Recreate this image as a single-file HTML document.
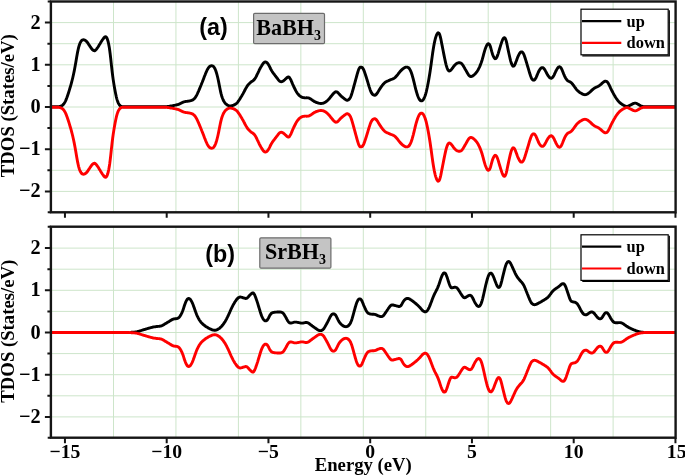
<!DOCTYPE html><html><head><meta charset="utf-8"><title>TDOS</title><style>html,body{margin:0;padding:0;background:#fff;overflow:hidden}svg{display:block;filter:blur(0.4px)}text{font-family:"Liberation Serif","Times New Roman",serif;font-weight:bold;fill:#000}.s{font-family:"Liberation Sans",Arial,sans-serif}</style></head><body>
<svg width="685" height="475" viewBox="0 0 685 475">
<rect width="685" height="475" fill="#fff"/>
<path d="M113.50,1.5V212.3M175.95,1.5V212.3M238.40,1.5V212.3M300.85,1.5V212.3M363.30,1.5V212.3M425.75,1.5V212.3M488.20,1.5V212.3M550.65,1.5V212.3M613.10,1.5V212.3M50.9,191.40H675.6M50.9,170.30H675.6M50.9,149.20H675.6M50.9,128.10H675.6M50.9,107.00H675.6M50.9,85.90H675.6M50.9,64.80H675.6M50.9,43.70H675.6M50.9,22.60H675.6" stroke="#cde5ca" stroke-width="1" fill="none"/>
<path d="M113.50,226.7V437.7M175.95,226.7V437.7M238.40,226.7V437.7M300.85,226.7V437.7M363.30,226.7V437.7M425.75,226.7V437.7M488.20,226.7V437.7M550.65,226.7V437.7M613.10,226.7V437.7M50.9,416.90H675.6M50.9,395.80H675.6M50.9,374.70H675.6M50.9,353.60H675.6M50.9,332.50H675.6M50.9,311.40H675.6M50.9,290.30H675.6M50.9,269.20H675.6M50.9,248.10H675.6" stroke="#cde5ca" stroke-width="1" fill="none"/>
<g fill="none" stroke-width="2.9" stroke-linejoin="round" stroke-linecap="butt">
<path stroke="#000" d="M51.2,106.8 L51.7,106.8 L52.2,106.8 L52.7,106.8 L53.2,106.8 L53.7,106.8 L54.2,106.8 L54.7,106.8 L55.2,106.8 L55.7,106.8 L56.2,106.8 L56.7,106.8 L57.2,106.8 L57.7,106.8 L58.2,106.7 L58.7,106.7 L59.2,106.6 L59.7,106.5 L60.2,106.4 L60.7,106.2 L61.2,106.0 L61.7,105.7 L62.2,105.4 L62.7,105.1 L63.2,104.6 L63.7,104.0 L64.2,103.3 L64.7,102.5 L65.2,101.6 L65.7,100.6 L66.2,99.4 L66.7,98.1 L67.2,96.7 L67.7,95.2 L68.2,93.7 L68.7,92.2 L69.2,90.6 L69.7,88.9 L70.2,87.3 L70.7,85.6 L71.2,83.8 L71.7,81.9 L72.2,80.0 L72.7,78.0 L73.2,75.8 L73.7,73.5 L74.2,71.1 L74.7,68.5 L75.2,65.8 L75.7,62.9 L76.2,60.0 L76.7,57.0 L77.2,54.2 L77.7,51.6 L78.2,49.3 L78.7,47.2 L79.2,45.5 L79.7,44.0 L80.2,42.8 L80.7,41.9 L81.2,41.1 L81.7,40.5 L82.2,40.1 L82.7,39.9 L83.2,39.8 L83.7,39.8 L84.2,39.9 L84.7,40.1 L85.2,40.3 L85.7,40.7 L86.2,41.1 L86.7,41.6 L87.2,42.2 L87.7,42.9 L88.2,43.6 L88.7,44.4 L89.2,45.2 L89.7,45.9 L90.2,46.7 L90.7,47.4 L91.2,48.1 L91.7,48.8 L92.2,49.4 L92.7,49.9 L93.2,50.3 L93.7,50.6 L94.2,50.7 L94.7,50.7 L95.2,50.4 L95.7,50.0 L96.2,49.5 L96.7,48.9 L97.2,48.2 L97.7,47.5 L98.2,46.7 L98.7,45.9 L99.2,45.1 L99.7,44.3 L100.2,43.5 L100.7,42.6 L101.2,41.8 L101.7,41.0 L102.2,40.2 L102.7,39.5 L103.2,38.8 L103.7,38.1 L104.2,37.6 L104.7,37.1 L105.2,36.8 L105.7,36.7 L106.2,37.0 L106.7,37.7 L107.2,38.7 L107.7,40.2 L108.2,42.0 L108.7,44.2 L109.2,46.9 L109.7,50.2 L110.2,54.1 L110.7,58.4 L111.2,63.1 L111.7,67.7 L112.2,72.0 L112.7,76.0 L113.2,79.6 L113.7,82.9 L114.2,86.0 L114.7,88.8 L115.2,91.5 L115.7,94.0 L116.2,96.3 L116.7,98.3 L117.2,100.1 L117.7,101.6 L118.2,102.8 L118.7,103.8 L119.2,104.6 L119.7,105.3 L120.2,105.8 L120.7,106.1 L121.2,106.4 L121.7,106.6 L122.2,106.6 L122.7,106.7 L123.2,106.8 L123.7,106.8 L124.2,106.8 L124.7,106.8 L125.2,106.8 L125.7,106.8 L126.2,106.8 L126.7,106.8 L127.2,106.8 L127.7,106.8 L128.2,106.8 L128.7,106.8 L129.2,106.8 L129.7,106.8 L130.2,106.8 L130.7,106.8 L131.2,106.8 L131.7,106.8 L132.2,106.8 L132.7,106.8 L133.2,106.8 L133.7,106.8 L134.2,106.8 L134.7,106.8 L135.2,106.8 L135.7,106.8 L136.2,106.8 L136.7,106.8 L137.2,106.8 L137.7,106.8 L138.2,106.8 L138.7,106.8 L139.2,106.8 L139.7,106.8 L140.2,106.8 L140.7,106.8 L141.2,106.8 L141.7,106.8 L142.2,106.8 L142.7,106.8 L143.2,106.8 L143.7,106.8 L144.2,106.8 L144.7,106.8 L145.2,106.8 L145.7,106.8 L146.2,106.8 L146.7,106.8 L147.2,106.8 L147.7,106.8 L148.2,106.8 L148.7,106.8 L149.2,106.8 L149.7,106.8 L150.2,106.8 L150.7,106.8 L151.2,106.8 L151.7,106.8 L152.2,106.8 L152.7,106.8 L153.2,106.8 L153.7,106.8 L154.2,106.8 L154.7,106.8 L155.2,106.8 L155.7,106.8 L156.2,106.8 L156.7,106.8 L157.2,106.8 L157.7,106.8 L158.2,106.8 L158.7,106.8 L159.2,106.8 L159.7,106.8 L160.2,106.8 L160.7,106.8 L161.2,106.8 L161.7,106.8 L162.2,106.8 L162.7,106.8 L163.2,106.8 L163.7,106.8 L164.2,106.7 L164.7,106.7 L165.2,106.7 L165.7,106.7 L166.2,106.7 L166.7,106.6 L167.2,106.6 L167.7,106.5 L168.2,106.5 L168.7,106.4 L169.2,106.3 L169.7,106.2 L170.2,106.1 L170.7,106.0 L171.2,105.9 L171.7,105.9 L172.2,105.8 L172.7,105.7 L173.2,105.6 L173.7,105.5 L174.2,105.4 L174.7,105.3 L175.2,105.2 L175.7,105.1 L176.2,105.0 L176.7,104.9 L177.2,104.7 L177.7,104.6 L178.2,104.5 L178.7,104.3 L179.2,104.1 L179.7,103.8 L180.2,103.6 L180.7,103.3 L181.2,103.1 L181.7,102.8 L182.2,102.6 L182.7,102.3 L183.2,102.1 L183.7,102.0 L184.2,101.8 L184.7,101.7 L185.2,101.6 L185.7,101.5 L186.2,101.4 L186.7,101.4 L187.2,101.3 L187.7,101.2 L188.2,101.2 L188.7,101.1 L189.2,101.0 L189.7,100.9 L190.2,100.8 L190.7,100.7 L191.2,100.5 L191.7,100.4 L192.2,100.2 L192.7,100.0 L193.2,99.6 L193.7,99.3 L194.2,98.8 L194.7,98.2 L195.2,97.6 L195.7,96.9 L196.2,96.0 L196.7,95.1 L197.2,94.1 L197.7,93.0 L198.2,91.9 L198.7,90.8 L199.2,89.6 L199.7,88.4 L200.2,87.2 L200.7,86.0 L201.2,84.8 L201.7,83.5 L202.2,82.3 L202.7,81.0 L203.2,79.7 L203.7,78.4 L204.2,77.1 L204.7,75.8 L205.2,74.6 L205.7,73.3 L206.2,72.1 L206.7,71.0 L207.2,69.9 L207.7,69.0 L208.2,68.2 L208.7,67.5 L209.2,66.9 L209.7,66.5 L210.2,66.1 L210.7,65.9 L211.2,65.8 L211.7,65.7 L212.2,65.8 L212.7,66.0 L213.2,66.3 L213.7,66.8 L214.2,67.4 L214.7,68.2 L215.2,69.3 L215.7,70.5 L216.2,72.0 L216.7,73.6 L217.2,75.5 L217.7,77.5 L218.2,79.7 L218.7,82.1 L219.2,84.7 L219.7,87.3 L220.2,89.8 L220.7,92.1 L221.2,94.2 L221.7,96.0 L222.2,97.5 L222.7,98.8 L223.2,100.0 L223.7,101.0 L224.2,101.8 L224.7,102.6 L225.2,103.2 L225.7,103.7 L226.2,104.2 L226.7,104.6 L227.2,104.9 L227.7,105.2 L228.2,105.5 L228.7,105.7 L229.2,105.8 L229.7,105.9 L230.2,105.9 L230.7,105.9 L231.2,105.8 L231.7,105.7 L232.2,105.6 L232.7,105.5 L233.2,105.3 L233.7,105.1 L234.2,104.9 L234.7,104.6 L235.2,104.4 L235.7,104.0 L236.2,103.7 L236.7,103.2 L237.2,102.7 L237.7,102.1 L238.2,101.4 L238.7,100.7 L239.2,100.0 L239.7,99.2 L240.2,98.4 L240.7,97.6 L241.2,96.8 L241.7,96.0 L242.2,95.1 L242.7,94.3 L243.2,93.4 L243.7,92.4 L244.2,91.5 L244.7,90.5 L245.2,89.5 L245.7,88.6 L246.2,87.7 L246.7,86.9 L247.2,86.1 L247.7,85.4 L248.2,84.7 L248.7,84.2 L249.2,83.7 L249.7,83.2 L250.2,82.7 L250.7,82.3 L251.2,81.9 L251.7,81.5 L252.2,81.2 L252.7,80.9 L253.2,80.5 L253.7,80.1 L254.2,79.6 L254.7,79.0 L255.2,78.2 L255.7,77.4 L256.2,76.5 L256.7,75.5 L257.2,74.4 L257.7,73.4 L258.2,72.3 L258.7,71.3 L259.2,70.2 L259.7,69.2 L260.2,68.3 L260.7,67.4 L261.2,66.5 L261.7,65.7 L262.2,64.8 L262.7,64.1 L263.2,63.4 L263.7,62.8 L264.2,62.4 L264.7,62.1 L265.2,62.0 L265.7,62.0 L266.2,62.2 L266.7,62.5 L267.2,62.9 L267.7,63.5 L268.2,64.2 L268.7,65.0 L269.2,65.9 L269.7,66.9 L270.2,68.0 L270.7,69.0 L271.2,69.9 L271.7,70.8 L272.2,71.6 L272.7,72.3 L273.2,73.0 L273.7,73.7 L274.2,74.3 L274.7,75.0 L275.2,75.7 L275.7,76.3 L276.2,77.0 L276.7,77.6 L277.2,78.3 L277.7,78.9 L278.2,79.6 L278.7,80.2 L279.2,80.7 L279.7,81.2 L280.2,81.5 L280.7,81.7 L281.2,81.8 L281.7,81.7 L282.2,81.6 L282.7,81.3 L283.2,81.0 L283.7,80.6 L284.2,80.2 L284.7,79.8 L285.2,79.3 L285.7,78.8 L286.2,78.4 L286.7,77.9 L287.2,77.5 L287.7,77.1 L288.2,77.0 L288.7,77.0 L289.2,77.3 L289.7,77.9 L290.2,78.7 L290.7,79.6 L291.2,80.7 L291.7,81.9 L292.2,83.1 L292.7,84.3 L293.2,85.4 L293.7,86.5 L294.2,87.5 L294.7,88.5 L295.2,89.5 L295.7,90.5 L296.2,91.4 L296.7,92.2 L297.2,93.0 L297.7,93.7 L298.2,94.3 L298.7,94.9 L299.2,95.4 L299.7,95.8 L300.2,96.2 L300.7,96.6 L301.2,96.8 L301.7,97.1 L302.2,97.3 L302.7,97.5 L303.2,97.6 L303.7,97.7 L304.2,97.8 L304.7,97.8 L305.2,97.9 L305.7,97.9 L306.2,97.8 L306.7,97.8 L307.2,97.8 L307.7,97.9 L308.2,97.9 L308.7,98.0 L309.2,98.2 L309.7,98.4 L310.2,98.7 L310.7,99.0 L311.2,99.3 L311.7,99.7 L312.2,100.0 L312.7,100.4 L313.2,100.7 L313.7,101.1 L314.2,101.4 L314.7,101.7 L315.2,101.9 L315.7,102.1 L316.2,102.4 L316.7,102.6 L317.2,102.7 L317.7,102.9 L318.2,103.0 L318.7,103.2 L319.2,103.3 L319.7,103.4 L320.2,103.4 L320.7,103.5 L321.2,103.5 L321.7,103.4 L322.2,103.4 L322.7,103.3 L323.2,103.1 L323.7,103.0 L324.2,102.8 L324.7,102.5 L325.2,102.2 L325.7,101.9 L326.2,101.6 L326.7,101.2 L327.2,100.8 L327.7,100.3 L328.2,99.8 L328.7,99.3 L329.2,98.7 L329.7,98.1 L330.2,97.5 L330.7,96.8 L331.2,96.2 L331.7,95.6 L332.2,95.0 L332.7,94.4 L333.2,93.9 L333.7,93.3 L334.2,92.8 L334.7,92.4 L335.2,92.0 L335.7,91.8 L336.2,91.8 L336.7,91.9 L337.2,92.1 L337.7,92.5 L338.2,92.9 L338.7,93.5 L339.2,94.0 L339.7,94.6 L340.2,95.1 L340.7,95.7 L341.2,96.1 L341.7,96.6 L342.2,97.0 L342.7,97.4 L343.2,97.8 L343.7,98.2 L344.2,98.6 L344.7,99.0 L345.2,99.3 L345.7,99.7 L346.2,100.0 L346.7,100.2 L347.2,100.2 L347.7,100.2 L348.2,100.0 L348.7,99.6 L349.2,99.2 L349.7,98.6 L350.2,97.8 L350.7,96.8 L351.2,95.5 L351.7,94.0 L352.2,92.4 L352.7,90.6 L353.2,88.8 L353.7,87.0 L354.2,85.1 L354.7,83.3 L355.2,81.5 L355.7,79.7 L356.2,77.8 L356.7,76.0 L357.2,74.2 L357.7,72.5 L358.2,70.9 L358.7,69.4 L359.2,68.4 L359.7,67.6 L360.2,67.2 L360.7,67.1 L361.2,67.1 L361.7,67.3 L362.2,67.6 L362.7,68.1 L363.2,68.8 L363.7,69.9 L364.2,71.1 L364.7,72.5 L365.2,73.9 L365.7,75.5 L366.2,77.0 L366.7,78.6 L367.2,80.2 L367.7,81.9 L368.2,83.6 L368.7,85.2 L369.2,86.9 L369.7,88.4 L370.2,89.9 L370.7,91.2 L371.2,92.3 L371.7,93.2 L372.2,93.9 L372.7,94.4 L373.2,94.8 L373.7,95.1 L374.2,95.2 L374.7,95.3 L375.2,95.1 L375.7,94.9 L376.2,94.4 L376.7,93.9 L377.2,93.2 L377.7,92.4 L378.2,91.6 L378.7,90.8 L379.2,89.9 L379.7,89.1 L380.2,88.4 L380.7,87.6 L381.2,86.9 L381.7,86.2 L382.2,85.5 L382.7,84.9 L383.2,84.3 L383.7,83.7 L384.2,83.2 L384.7,82.7 L385.2,82.3 L385.7,82.0 L386.2,81.7 L386.7,81.5 L387.2,81.2 L387.7,81.0 L388.2,80.8 L388.7,80.6 L389.2,80.3 L389.7,80.1 L390.2,79.9 L390.7,79.7 L391.2,79.5 L391.7,79.3 L392.2,79.2 L392.7,79.0 L393.2,78.7 L393.7,78.5 L394.2,78.2 L394.7,77.8 L395.2,77.4 L395.7,76.9 L396.2,76.4 L396.7,75.8 L397.2,75.2 L397.7,74.6 L398.2,73.9 L398.7,73.3 L399.2,72.6 L399.7,72.0 L400.2,71.4 L400.7,70.9 L401.2,70.4 L401.7,69.9 L402.2,69.4 L402.7,69.0 L403.2,68.6 L403.7,68.2 L404.2,67.9 L404.7,67.6 L405.2,67.4 L405.7,67.2 L406.2,67.1 L406.7,67.1 L407.2,67.1 L407.7,67.3 L408.2,67.5 L408.7,67.9 L409.2,68.4 L409.7,69.1 L410.2,70.0 L410.7,71.1 L411.2,72.3 L411.7,73.8 L412.2,75.3 L412.7,77.1 L413.2,78.9 L413.7,80.9 L414.2,82.9 L414.7,85.0 L415.2,87.1 L415.7,89.1 L416.2,91.0 L416.7,92.7 L417.2,94.3 L417.7,95.8 L418.2,97.0 L418.7,98.1 L419.2,99.1 L419.7,99.8 L420.2,100.4 L420.7,100.7 L421.2,100.9 L421.7,100.9 L422.2,100.7 L422.7,100.3 L423.2,99.7 L423.7,98.9 L424.2,98.0 L424.7,96.8 L425.2,95.5 L425.7,93.9 L426.2,92.1 L426.7,90.0 L427.2,87.8 L427.7,85.3 L428.2,82.7 L428.7,79.9 L429.2,77.0 L429.7,73.9 L430.2,70.7 L430.7,67.3 L431.2,63.7 L431.7,60.0 L432.2,56.4 L432.7,52.8 L433.2,49.5 L433.7,46.5 L434.2,43.8 L434.7,41.4 L435.2,39.2 L435.7,37.4 L436.2,35.9 L436.7,34.6 L437.2,33.7 L437.7,33.1 L438.2,32.8 L438.7,33.0 L439.2,33.5 L439.7,34.6 L440.2,36.3 L440.7,38.4 L441.2,40.8 L441.7,43.4 L442.2,45.9 L442.7,48.5 L443.2,51.1 L443.7,53.6 L444.2,56.1 L444.7,58.5 L445.2,60.9 L445.7,63.1 L446.2,65.1 L446.7,66.8 L447.2,68.2 L447.7,69.4 L448.2,70.2 L448.7,70.7 L449.2,71.0 L449.7,70.9 L450.2,70.7 L450.7,70.2 L451.2,69.7 L451.7,69.1 L452.2,68.5 L452.7,67.8 L453.2,67.1 L453.7,66.4 L454.2,65.8 L454.7,65.2 L455.2,64.7 L455.7,64.2 L456.2,63.8 L456.7,63.5 L457.2,63.2 L457.7,63.0 L458.2,62.8 L458.7,62.7 L459.2,62.7 L459.7,62.7 L460.2,62.8 L460.7,63.0 L461.2,63.3 L461.7,63.7 L462.2,64.3 L462.7,65.0 L463.2,65.7 L463.7,66.6 L464.2,67.4 L464.7,68.3 L465.2,69.2 L465.7,70.0 L466.2,70.9 L466.7,71.8 L467.2,72.7 L467.7,73.6 L468.2,74.4 L468.7,75.1 L469.2,75.7 L469.7,76.1 L470.2,76.4 L470.7,76.5 L471.2,76.5 L471.7,76.4 L472.2,76.2 L472.7,75.9 L473.2,75.6 L473.7,75.2 L474.2,74.8 L474.7,74.3 L475.2,73.8 L475.7,73.2 L476.2,72.6 L476.7,72.0 L477.2,71.3 L477.7,70.5 L478.2,69.7 L478.7,68.7 L479.2,67.7 L479.7,66.6 L480.2,65.4 L480.7,64.1 L481.2,62.8 L481.7,61.3 L482.2,59.7 L482.7,57.9 L483.2,56.1 L483.7,54.2 L484.2,52.4 L484.7,50.7 L485.2,49.1 L485.7,47.7 L486.2,46.5 L486.7,45.4 L487.2,44.6 L487.7,44.1 L488.2,43.8 L488.7,43.8 L489.2,44.2 L489.7,44.9 L490.2,46.0 L490.7,47.6 L491.2,49.5 L491.7,51.4 L492.2,53.1 L492.7,54.7 L493.2,55.9 L493.7,57.0 L494.2,57.8 L494.7,58.4 L495.2,58.7 L495.7,58.6 L496.2,58.2 L496.7,57.5 L497.2,56.4 L497.7,55.1 L498.2,53.6 L498.7,51.9 L499.2,50.2 L499.7,48.5 L500.2,46.9 L500.7,45.2 L501.2,43.6 L501.7,42.1 L502.2,40.7 L502.7,39.5 L503.2,38.6 L503.7,38.0 L504.2,37.7 L504.7,37.9 L505.2,38.4 L505.7,39.4 L506.2,40.9 L506.7,42.9 L507.2,45.2 L507.7,47.7 L508.2,50.1 L508.7,52.5 L509.2,54.8 L509.7,57.0 L510.2,59.1 L510.7,61.1 L511.2,62.8 L511.7,64.2 L512.2,65.2 L512.7,65.9 L513.2,66.2 L513.7,66.1 L514.2,65.7 L514.7,64.9 L515.2,63.9 L515.7,62.6 L516.2,61.3 L516.7,59.9 L517.2,58.5 L517.7,57.2 L518.2,56.1 L518.7,55.0 L519.2,54.1 L519.7,53.2 L520.2,52.6 L520.7,52.1 L521.2,51.9 L521.7,51.9 L522.2,52.0 L522.7,52.5 L523.2,53.1 L523.7,54.1 L524.2,55.3 L524.7,56.7 L525.2,58.3 L525.7,59.9 L526.2,61.5 L526.7,63.2 L527.2,64.9 L527.7,66.5 L528.2,68.2 L528.7,69.9 L529.2,71.6 L529.7,73.3 L530.2,74.8 L530.7,76.3 L531.2,77.6 L531.7,78.6 L532.2,79.3 L532.7,79.9 L533.2,80.1 L533.7,80.2 L534.2,80.1 L534.7,79.7 L535.2,79.1 L535.7,78.3 L536.2,77.3 L536.7,76.1 L537.2,74.9 L537.7,73.7 L538.2,72.5 L538.7,71.5 L539.2,70.5 L539.7,69.7 L540.2,69.0 L540.7,68.4 L541.2,68.0 L541.7,67.7 L542.2,67.6 L542.7,67.7 L543.2,67.9 L543.7,68.3 L544.2,68.9 L544.7,69.6 L545.2,70.4 L545.7,71.4 L546.2,72.3 L546.7,73.3 L547.2,74.2 L547.7,75.1 L548.2,75.8 L548.7,76.5 L549.2,77.1 L549.7,77.6 L550.2,78.0 L550.7,78.2 L551.2,78.3 L551.7,78.1 L552.2,77.8 L552.7,77.3 L553.2,76.6 L553.7,75.8 L554.2,74.8 L554.7,73.7 L555.2,72.6 L555.7,71.5 L556.2,70.5 L556.7,69.6 L557.2,68.7 L557.7,68.0 L558.2,67.4 L558.7,67.0 L559.2,66.8 L559.7,66.8 L560.2,67.0 L560.7,67.5 L561.2,68.2 L561.7,69.1 L562.2,70.3 L562.7,71.5 L563.2,72.8 L563.7,74.1 L564.2,75.2 L564.7,76.3 L565.2,77.3 L565.7,78.2 L566.2,79.0 L566.7,79.6 L567.2,80.2 L567.7,80.7 L568.2,81.0 L568.7,81.3 L569.2,81.5 L569.7,81.7 L570.2,82.0 L570.7,82.3 L571.2,82.7 L571.7,83.1 L572.2,83.7 L572.7,84.3 L573.2,85.0 L573.7,85.6 L574.2,86.3 L574.7,87.1 L575.2,87.7 L575.7,88.4 L576.2,89.1 L576.7,89.7 L577.2,90.2 L577.7,90.7 L578.2,91.2 L578.7,91.6 L579.2,92.0 L579.7,92.4 L580.2,92.7 L580.7,93.0 L581.2,93.3 L581.7,93.6 L582.2,93.9 L582.7,94.1 L583.2,94.3 L583.7,94.5 L584.2,94.6 L584.7,94.7 L585.2,94.7 L585.7,94.6 L586.2,94.5 L586.7,94.3 L587.2,94.0 L587.7,93.8 L588.2,93.4 L588.7,93.1 L589.2,92.7 L589.7,92.3 L590.2,91.8 L590.7,91.4 L591.2,90.9 L591.7,90.4 L592.2,89.9 L592.7,89.5 L593.2,89.1 L593.7,88.7 L594.2,88.3 L594.7,88.0 L595.2,87.7 L595.7,87.5 L596.2,87.2 L596.7,87.0 L597.2,86.8 L597.7,86.5 L598.2,86.3 L598.7,86.0 L599.2,85.7 L599.7,85.3 L600.2,85.0 L600.7,84.5 L601.2,84.1 L601.7,83.6 L602.2,83.2 L602.7,82.7 L603.2,82.3 L603.7,81.9 L604.2,81.6 L604.7,81.4 L605.2,81.2 L605.7,81.2 L606.2,81.3 L606.7,81.5 L607.2,81.9 L607.7,82.5 L608.2,83.2 L608.7,84.1 L609.2,85.0 L609.7,86.1 L610.2,87.2 L610.7,88.3 L611.2,89.3 L611.7,90.3 L612.2,91.3 L612.7,92.2 L613.2,93.2 L613.7,94.1 L614.2,95.0 L614.7,95.8 L615.2,96.7 L615.7,97.5 L616.2,98.3 L616.7,99.0 L617.2,99.7 L617.7,100.4 L618.2,101.0 L618.7,101.5 L619.2,102.1 L619.7,102.5 L620.2,103.0 L620.7,103.4 L621.2,103.8 L621.7,104.1 L622.2,104.4 L622.7,104.7 L623.2,105.0 L623.7,105.3 L624.2,105.5 L624.7,105.8 L625.2,106.0 L625.7,106.2 L626.2,106.3 L626.7,106.4 L627.2,106.4 L627.7,106.3 L628.2,106.1 L628.7,105.9 L629.2,105.7 L629.7,105.4 L630.2,105.2 L630.7,104.9 L631.2,104.7 L631.7,104.4 L632.2,104.1 L632.7,103.9 L633.2,103.6 L633.7,103.4 L634.2,103.3 L634.7,103.2 L635.2,103.1 L635.7,103.2 L636.2,103.3 L636.7,103.5 L637.2,103.8 L637.7,104.1 L638.2,104.3 L638.7,104.6 L639.2,104.9 L639.7,105.2 L640.2,105.5 L640.7,105.8 L641.2,106.0 L641.7,106.2 L642.2,106.4 L642.7,106.5 L643.2,106.6 L643.7,106.7 L644.2,106.7 L644.7,106.8 L645.2,106.8 L645.7,106.8 L646.2,106.8 L646.7,106.8 L647.2,106.8 L647.7,106.8 L648.2,106.8 L648.7,106.8 L649.2,106.8 L649.7,106.8 L650.2,106.8 L650.7,106.8 L651.2,106.8 L651.7,106.8 L652.2,106.8 L652.7,106.8 L653.2,106.8 L653.7,106.8 L654.2,106.8 L654.7,106.8 L655.2,106.8 L655.7,106.8 L656.2,106.8 L656.7,106.8 L657.2,106.8 L657.7,106.8 L658.2,106.8 L658.7,106.8 L659.2,106.8 L659.7,106.8 L660.2,106.8 L660.7,106.8 L661.2,106.8 L661.7,106.8 L662.2,106.8 L662.7,106.8 L663.2,106.8 L663.7,106.8 L664.2,106.8 L664.7,106.8 L665.2,106.8 L665.7,106.8 L666.2,106.8 L666.7,106.8 L667.2,106.8 L667.7,106.8 L668.2,106.8 L668.7,106.8 L669.2,106.8 L669.7,106.8 L670.2,106.8 L670.7,106.8 L671.2,106.8 L671.7,106.8 L672.2,106.8 L672.7,106.8 L673.2,106.8 L673.7,106.8 L674.2,106.8 L674.7,106.8 L675.2,106.8"/>
<path stroke="#f00" d="M51.2,107.2 L51.7,107.2 L52.2,107.2 L52.7,107.2 L53.2,107.2 L53.7,107.2 L54.2,107.2 L54.7,107.2 L55.2,107.2 L55.7,107.2 L56.2,107.2 L56.7,107.2 L57.2,107.2 L57.7,107.2 L58.2,107.3 L58.7,107.3 L59.2,107.4 L59.7,107.5 L60.2,107.6 L60.7,107.8 L61.2,108.0 L61.7,108.3 L62.2,108.6 L62.7,108.9 L63.2,109.4 L63.7,110.0 L64.2,110.7 L64.7,111.5 L65.2,112.4 L65.7,113.4 L66.2,114.6 L66.7,115.9 L67.2,117.3 L67.7,118.8 L68.2,120.3 L68.7,121.8 L69.2,123.4 L69.7,125.1 L70.2,126.7 L70.7,128.4 L71.2,130.2 L71.7,132.1 L72.2,134.0 L72.7,136.0 L73.2,138.2 L73.7,140.5 L74.2,142.9 L74.7,145.5 L75.2,148.2 L75.7,151.1 L76.2,154.0 L76.7,157.0 L77.2,159.8 L77.7,162.4 L78.2,164.7 L78.7,166.8 L79.2,168.5 L79.7,170.0 L80.2,171.2 L80.7,172.1 L81.2,172.9 L81.7,173.5 L82.2,173.9 L82.7,174.1 L83.2,174.2 L83.7,174.2 L84.2,174.1 L84.7,173.9 L85.2,173.7 L85.7,173.3 L86.2,172.9 L86.7,172.4 L87.2,171.8 L87.7,171.1 L88.2,170.4 L88.7,169.6 L89.2,168.8 L89.7,168.1 L90.2,167.3 L90.7,166.6 L91.2,165.9 L91.7,165.2 L92.2,164.6 L92.7,164.1 L93.2,163.7 L93.7,163.4 L94.2,163.3 L94.7,163.3 L95.2,163.6 L95.7,164.0 L96.2,164.5 L96.7,165.1 L97.2,165.8 L97.7,166.5 L98.2,167.3 L98.7,168.1 L99.2,168.9 L99.7,169.7 L100.2,170.5 L100.7,171.4 L101.2,172.2 L101.7,173.0 L102.2,173.8 L102.7,174.5 L103.2,175.2 L103.7,175.9 L104.2,176.4 L104.7,176.9 L105.2,177.2 L105.7,177.3 L106.2,177.0 L106.7,176.3 L107.2,175.3 L107.7,173.8 L108.2,172.0 L108.7,169.8 L109.2,167.1 L109.7,163.8 L110.2,159.9 L110.7,155.6 L111.2,150.9 L111.7,146.3 L112.2,142.0 L112.7,138.0 L113.2,134.4 L113.7,131.1 L114.2,128.0 L114.7,125.2 L115.2,122.5 L115.7,120.0 L116.2,117.7 L116.7,115.7 L117.2,113.9 L117.7,112.4 L118.2,111.2 L118.7,110.2 L119.2,109.4 L119.7,108.7 L120.2,108.2 L120.7,107.9 L121.2,107.6 L121.7,107.4 L122.2,107.4 L122.7,107.3 L123.2,107.2 L123.7,107.2 L124.2,107.2 L124.7,107.2 L125.2,107.2 L125.7,107.2 L126.2,107.2 L126.7,107.2 L127.2,107.2 L127.7,107.2 L128.2,107.2 L128.7,107.2 L129.2,107.2 L129.7,107.2 L130.2,107.2 L130.7,107.2 L131.2,107.2 L131.7,107.2 L132.2,107.2 L132.7,107.2 L133.2,107.2 L133.7,107.2 L134.2,107.2 L134.7,107.2 L135.2,107.2 L135.7,107.2 L136.2,107.2 L136.7,107.2 L137.2,107.2 L137.7,107.2 L138.2,107.2 L138.7,107.2 L139.2,107.2 L139.7,107.2 L140.2,107.2 L140.7,107.2 L141.2,107.2 L141.7,107.2 L142.2,107.2 L142.7,107.2 L143.2,107.2 L143.7,107.2 L144.2,107.2 L144.7,107.2 L145.2,107.2 L145.7,107.2 L146.2,107.2 L146.7,107.2 L147.2,107.2 L147.7,107.2 L148.2,107.2 L148.7,107.2 L149.2,107.2 L149.7,107.2 L150.2,107.2 L150.7,107.2 L151.2,107.2 L151.7,107.2 L152.2,107.2 L152.7,107.2 L153.2,107.2 L153.7,107.2 L154.2,107.2 L154.7,107.2 L155.2,107.2 L155.7,107.2 L156.2,107.2 L156.7,107.2 L157.2,107.2 L157.7,107.2 L158.2,107.2 L158.7,107.2 L159.2,107.2 L159.7,107.2 L160.2,107.2 L160.7,107.2 L161.2,107.2 L161.7,107.2 L162.2,107.2 L162.7,107.2 L163.2,107.2 L163.7,107.2 L164.2,107.3 L164.7,107.3 L165.2,107.3 L165.7,107.3 L166.2,107.3 L166.7,107.4 L167.2,107.4 L167.7,107.5 L168.2,107.5 L168.7,107.6 L169.2,107.7 L169.7,107.8 L170.2,107.9 L170.7,108.0 L171.2,108.1 L171.7,108.1 L172.2,108.2 L172.7,108.3 L173.2,108.4 L173.7,108.5 L174.2,108.6 L174.7,108.7 L175.2,108.8 L175.7,108.9 L176.2,109.0 L176.7,109.1 L177.2,109.3 L177.7,109.4 L178.2,109.5 L178.7,109.7 L179.2,109.9 L179.7,110.2 L180.2,110.4 L180.7,110.7 L181.2,110.9 L181.7,111.2 L182.2,111.4 L182.7,111.7 L183.2,111.9 L183.7,112.0 L184.2,112.2 L184.7,112.3 L185.2,112.4 L185.7,112.5 L186.2,112.6 L186.7,112.6 L187.2,112.7 L187.7,112.8 L188.2,112.8 L188.7,112.9 L189.2,113.0 L189.7,113.1 L190.2,113.2 L190.7,113.3 L191.2,113.5 L191.7,113.6 L192.2,113.8 L192.7,114.0 L193.2,114.4 L193.7,114.7 L194.2,115.2 L194.7,115.8 L195.2,116.4 L195.7,117.1 L196.2,118.0 L196.7,118.9 L197.2,119.9 L197.7,121.0 L198.2,122.1 L198.7,123.2 L199.2,124.4 L199.7,125.6 L200.2,126.8 L200.7,128.0 L201.2,129.2 L201.7,130.5 L202.2,131.7 L202.7,133.0 L203.2,134.3 L203.7,135.6 L204.2,136.9 L204.7,138.2 L205.2,139.4 L205.7,140.7 L206.2,141.9 L206.7,143.0 L207.2,144.1 L207.7,145.0 L208.2,145.8 L208.7,146.5 L209.2,147.1 L209.7,147.5 L210.2,147.9 L210.7,148.1 L211.2,148.2 L211.7,148.3 L212.2,148.2 L212.7,148.0 L213.2,147.7 L213.7,147.2 L214.2,146.6 L214.7,145.8 L215.2,144.7 L215.7,143.5 L216.2,142.0 L216.7,140.4 L217.2,138.5 L217.7,136.5 L218.2,134.3 L218.7,131.9 L219.2,129.3 L219.7,126.7 L220.2,124.2 L220.7,121.9 L221.2,119.8 L221.7,118.0 L222.2,116.5 L222.7,115.2 L223.2,114.0 L223.7,113.0 L224.2,112.2 L224.7,111.4 L225.2,110.8 L225.7,110.3 L226.2,109.8 L226.7,109.4 L227.2,109.1 L227.7,108.8 L228.2,108.5 L228.7,108.3 L229.2,108.2 L229.7,108.1 L230.2,108.1 L230.7,108.1 L231.2,108.2 L231.7,108.3 L232.2,108.4 L232.7,108.5 L233.2,108.7 L233.7,108.9 L234.2,109.1 L234.7,109.4 L235.2,109.6 L235.7,110.0 L236.2,110.3 L236.7,110.8 L237.2,111.3 L237.7,111.9 L238.2,112.6 L238.7,113.3 L239.2,114.0 L239.7,114.8 L240.2,115.6 L240.7,116.4 L241.2,117.2 L241.7,118.0 L242.2,118.9 L242.7,119.7 L243.2,120.6 L243.7,121.6 L244.2,122.5 L244.7,123.5 L245.2,124.5 L245.7,125.4 L246.2,126.3 L246.7,127.1 L247.2,127.9 L247.7,128.6 L248.2,129.3 L248.7,129.8 L249.2,130.3 L249.7,130.8 L250.2,131.3 L250.7,131.7 L251.2,132.1 L251.7,132.5 L252.2,132.8 L252.7,133.1 L253.2,133.5 L253.7,133.9 L254.2,134.4 L254.7,135.0 L255.2,135.8 L255.7,136.6 L256.2,137.5 L256.7,138.5 L257.2,139.6 L257.7,140.6 L258.2,141.7 L258.7,142.7 L259.2,143.8 L259.7,144.8 L260.2,145.7 L260.7,146.6 L261.2,147.5 L261.7,148.3 L262.2,149.2 L262.7,149.9 L263.2,150.6 L263.7,151.2 L264.2,151.6 L264.7,151.9 L265.2,152.0 L265.7,152.0 L266.2,151.8 L266.7,151.5 L267.2,151.1 L267.7,150.5 L268.2,149.8 L268.7,149.0 L269.2,148.1 L269.7,147.1 L270.2,146.0 L270.7,145.0 L271.2,144.1 L271.7,143.2 L272.2,142.4 L272.7,141.7 L273.2,141.0 L273.7,140.3 L274.2,139.7 L274.7,139.0 L275.2,138.3 L275.7,137.7 L276.2,137.0 L276.7,136.4 L277.2,135.7 L277.7,135.1 L278.2,134.4 L278.7,133.8 L279.2,133.3 L279.7,132.8 L280.2,132.5 L280.7,132.3 L281.2,132.2 L281.7,132.3 L282.2,132.4 L282.7,132.7 L283.2,133.0 L283.7,133.4 L284.2,133.8 L284.7,134.2 L285.2,134.7 L285.7,135.2 L286.2,135.6 L286.7,136.1 L287.2,136.5 L287.7,136.9 L288.2,137.0 L288.7,137.0 L289.2,136.7 L289.7,136.1 L290.2,135.3 L290.7,134.4 L291.2,133.3 L291.7,132.1 L292.2,130.9 L292.7,129.7 L293.2,128.6 L293.7,127.5 L294.2,126.5 L294.7,125.5 L295.2,124.5 L295.7,123.5 L296.2,122.6 L296.7,121.8 L297.2,121.0 L297.7,120.3 L298.2,119.7 L298.7,119.1 L299.2,118.6 L299.7,118.2 L300.2,117.8 L300.7,117.4 L301.2,117.2 L301.7,116.9 L302.2,116.7 L302.7,116.5 L303.2,116.4 L303.7,116.3 L304.2,116.2 L304.7,116.2 L305.2,116.1 L305.7,116.1 L306.2,116.2 L306.7,116.2 L307.2,116.2 L307.7,116.1 L308.2,116.1 L308.7,116.0 L309.2,115.8 L309.7,115.6 L310.2,115.3 L310.7,115.0 L311.2,114.7 L311.7,114.3 L312.2,114.0 L312.7,113.6 L313.2,113.3 L313.7,112.9 L314.2,112.6 L314.7,112.3 L315.2,112.1 L315.7,111.9 L316.2,111.6 L316.7,111.4 L317.2,111.3 L317.7,111.1 L318.2,111.0 L318.7,110.8 L319.2,110.7 L319.7,110.6 L320.2,110.6 L320.7,110.5 L321.2,110.5 L321.7,110.6 L322.2,110.6 L322.7,110.7 L323.2,110.9 L323.7,111.0 L324.2,111.2 L324.7,111.5 L325.2,111.8 L325.7,112.1 L326.2,112.4 L326.7,112.8 L327.2,113.2 L327.7,113.7 L328.2,114.2 L328.7,114.7 L329.2,115.3 L329.7,115.9 L330.2,116.5 L330.7,117.2 L331.2,117.8 L331.7,118.4 L332.2,119.0 L332.7,119.6 L333.2,120.1 L333.7,120.7 L334.2,121.2 L334.7,121.6 L335.2,122.0 L335.7,122.2 L336.2,122.2 L336.7,122.1 L337.2,121.9 L337.7,121.5 L338.2,121.1 L338.7,120.5 L339.2,120.0 L339.7,119.4 L340.2,118.9 L340.7,118.3 L341.2,117.9 L341.7,117.4 L342.2,117.0 L342.7,116.6 L343.2,116.2 L343.7,115.8 L344.2,115.4 L344.7,115.0 L345.2,114.7 L345.7,114.3 L346.2,114.0 L346.7,113.8 L347.2,113.8 L347.7,113.8 L348.2,114.0 L348.7,114.4 L349.2,114.8 L349.7,115.4 L350.2,116.2 L350.7,117.2 L351.2,118.5 L351.7,120.0 L352.2,121.6 L352.7,123.4 L353.2,125.2 L353.7,127.0 L354.2,128.9 L354.7,130.7 L355.2,132.5 L355.7,134.3 L356.2,136.2 L356.7,138.0 L357.2,139.8 L357.7,141.5 L358.2,143.1 L358.7,144.6 L359.2,145.6 L359.7,146.4 L360.2,146.8 L360.7,146.9 L361.2,146.9 L361.7,146.7 L362.2,146.4 L362.7,145.9 L363.2,145.2 L363.7,144.1 L364.2,142.9 L364.7,141.5 L365.2,140.1 L365.7,138.5 L366.2,137.0 L366.7,135.4 L367.2,133.8 L367.7,132.1 L368.2,130.4 L368.7,128.8 L369.2,127.1 L369.7,125.6 L370.2,124.1 L370.7,122.8 L371.2,121.7 L371.7,120.8 L372.2,120.1 L372.7,119.6 L373.2,119.2 L373.7,118.9 L374.2,118.8 L374.7,118.7 L375.2,118.9 L375.7,119.1 L376.2,119.6 L376.7,120.1 L377.2,120.8 L377.7,121.6 L378.2,122.4 L378.7,123.2 L379.2,124.1 L379.7,124.9 L380.2,125.6 L380.7,126.4 L381.2,127.1 L381.7,127.8 L382.2,128.5 L382.7,129.1 L383.2,129.7 L383.7,130.3 L384.2,130.8 L384.7,131.3 L385.2,131.7 L385.7,132.0 L386.2,132.3 L386.7,132.5 L387.2,132.8 L387.7,133.0 L388.2,133.2 L388.7,133.4 L389.2,133.7 L389.7,133.9 L390.2,134.1 L390.7,134.3 L391.2,134.5 L391.7,134.7 L392.2,134.8 L392.7,135.0 L393.2,135.3 L393.7,135.5 L394.2,135.8 L394.7,136.2 L395.2,136.6 L395.7,137.1 L396.2,137.6 L396.7,138.2 L397.2,138.8 L397.7,139.4 L398.2,140.1 L398.7,140.7 L399.2,141.4 L399.7,142.0 L400.2,142.6 L400.7,143.1 L401.2,143.6 L401.7,144.1 L402.2,144.6 L402.7,145.0 L403.2,145.4 L403.7,145.8 L404.2,146.1 L404.7,146.4 L405.2,146.6 L405.7,146.8 L406.2,146.9 L406.7,146.9 L407.2,146.9 L407.7,146.7 L408.2,146.5 L408.7,146.1 L409.2,145.6 L409.7,144.9 L410.2,144.0 L410.7,142.9 L411.2,141.7 L411.7,140.2 L412.2,138.7 L412.7,136.9 L413.2,135.1 L413.7,133.1 L414.2,131.1 L414.7,129.0 L415.2,126.9 L415.7,124.9 L416.2,123.0 L416.7,121.3 L417.2,119.7 L417.7,118.2 L418.2,117.0 L418.7,115.9 L419.2,114.9 L419.7,114.2 L420.2,113.6 L420.7,113.3 L421.2,113.1 L421.7,113.1 L422.2,113.3 L422.7,113.7 L423.2,114.3 L423.7,115.1 L424.2,116.0 L424.7,117.2 L425.2,118.5 L425.7,120.1 L426.2,121.9 L426.7,124.0 L427.2,126.2 L427.7,128.7 L428.2,131.3 L428.7,134.1 L429.2,137.0 L429.7,140.1 L430.2,143.3 L430.7,146.7 L431.2,150.3 L431.7,154.0 L432.2,157.6 L432.7,161.2 L433.2,164.5 L433.7,167.5 L434.2,170.2 L434.7,172.6 L435.2,174.8 L435.7,176.6 L436.2,178.1 L436.7,179.4 L437.2,180.3 L437.7,180.9 L438.2,181.2 L438.7,181.0 L439.2,180.5 L439.7,179.4 L440.2,177.7 L440.7,175.6 L441.2,173.2 L441.7,170.6 L442.2,168.1 L442.7,165.5 L443.2,162.9 L443.7,160.4 L444.2,157.9 L444.7,155.5 L445.2,153.1 L445.7,150.9 L446.2,148.9 L446.7,147.2 L447.2,145.8 L447.7,144.6 L448.2,143.8 L448.7,143.3 L449.2,143.0 L449.7,143.1 L450.2,143.3 L450.7,143.8 L451.2,144.3 L451.7,144.9 L452.2,145.5 L452.7,146.2 L453.2,146.9 L453.7,147.6 L454.2,148.2 L454.7,148.8 L455.2,149.3 L455.7,149.8 L456.2,150.2 L456.7,150.5 L457.2,150.8 L457.7,151.0 L458.2,151.2 L458.7,151.3 L459.2,151.3 L459.7,151.3 L460.2,151.2 L460.7,151.0 L461.2,150.7 L461.7,150.3 L462.2,149.7 L462.7,149.0 L463.2,148.3 L463.7,147.4 L464.2,146.6 L464.7,145.7 L465.2,144.8 L465.7,144.0 L466.2,143.1 L466.7,142.2 L467.2,141.3 L467.7,140.4 L468.2,139.6 L468.7,138.9 L469.2,138.3 L469.7,137.9 L470.2,137.6 L470.7,137.5 L471.2,137.5 L471.7,137.6 L472.2,137.8 L472.7,138.1 L473.2,138.4 L473.7,138.8 L474.2,139.2 L474.7,139.7 L475.2,140.2 L475.7,140.8 L476.2,141.4 L476.7,142.0 L477.2,142.7 L477.7,143.5 L478.2,144.3 L478.7,145.3 L479.2,146.3 L479.7,147.4 L480.2,148.6 L480.7,149.9 L481.2,151.2 L481.7,152.7 L482.2,154.3 L482.7,156.1 L483.2,157.9 L483.7,159.8 L484.2,161.6 L484.7,163.3 L485.2,164.9 L485.7,166.3 L486.2,167.5 L486.7,168.6 L487.2,169.4 L487.7,169.9 L488.2,170.2 L488.7,170.2 L489.2,169.8 L489.7,169.1 L490.2,168.0 L490.7,166.4 L491.2,164.5 L491.7,162.6 L492.2,160.9 L492.7,159.3 L493.2,158.1 L493.7,157.0 L494.2,156.2 L494.7,155.6 L495.2,155.3 L495.7,155.4 L496.2,155.8 L496.7,156.5 L497.2,157.6 L497.7,158.9 L498.2,160.4 L498.7,162.1 L499.2,163.8 L499.7,165.5 L500.2,167.1 L500.7,168.8 L501.2,170.4 L501.7,171.9 L502.2,173.3 L502.7,174.5 L503.2,175.4 L503.7,176.0 L504.2,176.3 L504.7,176.1 L505.2,175.6 L505.7,174.6 L506.2,173.1 L506.7,171.1 L507.2,168.8 L507.7,166.3 L508.2,163.9 L508.7,161.5 L509.2,159.2 L509.7,157.0 L510.2,154.9 L510.7,152.9 L511.2,151.2 L511.7,149.8 L512.2,148.8 L512.7,148.1 L513.2,147.8 L513.7,147.9 L514.2,148.3 L514.7,149.1 L515.2,150.1 L515.7,151.4 L516.2,152.7 L516.7,154.1 L517.2,155.5 L517.7,156.8 L518.2,157.9 L518.7,159.0 L519.2,159.9 L519.7,160.8 L520.2,161.4 L520.7,161.9 L521.2,162.1 L521.7,162.1 L522.2,162.0 L522.7,161.5 L523.2,160.9 L523.7,159.9 L524.2,158.7 L524.7,157.3 L525.2,155.7 L525.7,154.1 L526.2,152.5 L526.7,150.8 L527.2,149.1 L527.7,147.5 L528.2,145.8 L528.7,144.1 L529.2,142.4 L529.7,140.7 L530.2,139.2 L530.7,137.7 L531.2,136.4 L531.7,135.4 L532.2,134.7 L532.7,134.1 L533.2,133.9 L533.7,133.8 L534.2,133.9 L534.7,134.3 L535.2,134.9 L535.7,135.7 L536.2,136.7 L536.7,137.9 L537.2,139.1 L537.7,140.3 L538.2,141.5 L538.7,142.5 L539.2,143.5 L539.7,144.3 L540.2,145.0 L540.7,145.6 L541.2,146.0 L541.7,146.3 L542.2,146.4 L542.7,146.3 L543.2,146.1 L543.7,145.7 L544.2,145.1 L544.7,144.4 L545.2,143.6 L545.7,142.6 L546.2,141.7 L546.7,140.7 L547.2,139.8 L547.7,138.9 L548.2,138.2 L548.7,137.5 L549.2,136.9 L549.7,136.4 L550.2,136.0 L550.7,135.8 L551.2,135.7 L551.7,135.9 L552.2,136.2 L552.7,136.7 L553.2,137.4 L553.7,138.2 L554.2,139.2 L554.7,140.3 L555.2,141.4 L555.7,142.5 L556.2,143.5 L556.7,144.4 L557.2,145.3 L557.7,146.0 L558.2,146.6 L558.7,147.0 L559.2,147.2 L559.7,147.2 L560.2,147.0 L560.7,146.5 L561.2,145.8 L561.7,144.9 L562.2,143.7 L562.7,142.5 L563.2,141.2 L563.7,139.9 L564.2,138.8 L564.7,137.7 L565.2,136.7 L565.7,135.8 L566.2,135.0 L566.7,134.4 L567.2,133.8 L567.7,133.3 L568.2,133.0 L568.7,132.7 L569.2,132.5 L569.7,132.3 L570.2,132.0 L570.7,131.7 L571.2,131.3 L571.7,130.9 L572.2,130.3 L572.7,129.7 L573.2,129.0 L573.7,128.4 L574.2,127.7 L574.7,126.9 L575.2,126.3 L575.7,125.6 L576.2,124.9 L576.7,124.3 L577.2,123.8 L577.7,123.3 L578.2,122.8 L578.7,122.4 L579.2,122.0 L579.7,121.6 L580.2,121.3 L580.7,121.0 L581.2,120.7 L581.7,120.4 L582.2,120.1 L582.7,119.9 L583.2,119.7 L583.7,119.5 L584.2,119.4 L584.7,119.3 L585.2,119.3 L585.7,119.4 L586.2,119.5 L586.7,119.7 L587.2,120.0 L587.7,120.2 L588.2,120.6 L588.7,120.9 L589.2,121.3 L589.7,121.7 L590.2,122.2 L590.7,122.6 L591.2,123.1 L591.7,123.6 L592.2,124.1 L592.7,124.5 L593.2,124.9 L593.7,125.3 L594.2,125.7 L594.7,126.0 L595.2,126.3 L595.7,126.5 L596.2,126.8 L596.7,127.0 L597.2,127.2 L597.7,127.5 L598.2,127.7 L598.7,128.0 L599.2,128.3 L599.7,128.7 L600.2,129.0 L600.7,129.5 L601.2,129.9 L601.7,130.4 L602.2,130.8 L602.7,131.3 L603.2,131.7 L603.7,132.1 L604.2,132.4 L604.7,132.6 L605.2,132.8 L605.7,132.8 L606.2,132.7 L606.7,132.5 L607.2,132.1 L607.7,131.5 L608.2,130.8 L608.7,129.9 L609.2,129.0 L609.7,127.9 L610.2,126.8 L610.7,125.7 L611.2,124.7 L611.7,123.7 L612.2,122.7 L612.7,121.8 L613.2,120.8 L613.7,119.9 L614.2,119.0 L614.7,118.2 L615.2,117.3 L615.7,116.5 L616.2,115.7 L616.7,115.0 L617.2,114.3 L617.7,113.6 L618.2,113.0 L618.7,112.5 L619.2,111.9 L619.7,111.5 L620.2,111.0 L620.7,110.6 L621.2,110.2 L621.7,109.9 L622.2,109.6 L622.7,109.3 L623.2,109.0 L623.7,108.7 L624.2,108.5 L624.7,108.2 L625.2,108.0 L625.7,107.8 L626.2,107.7 L626.7,107.6 L627.2,107.6 L627.7,107.7 L628.2,107.9 L628.7,108.1 L629.2,108.3 L629.7,108.6 L630.2,108.8 L630.7,109.1 L631.2,109.3 L631.7,109.6 L632.2,109.9 L632.7,110.1 L633.2,110.4 L633.7,110.6 L634.2,110.7 L634.7,110.8 L635.2,110.9 L635.7,110.8 L636.2,110.7 L636.7,110.5 L637.2,110.2 L637.7,109.9 L638.2,109.7 L638.7,109.4 L639.2,109.1 L639.7,108.8 L640.2,108.5 L640.7,108.2 L641.2,108.0 L641.7,107.8 L642.2,107.6 L642.7,107.5 L643.2,107.4 L643.7,107.3 L644.2,107.3 L644.7,107.2 L645.2,107.2 L645.7,107.2 L646.2,107.2 L646.7,107.2 L647.2,107.2 L647.7,107.2 L648.2,107.2 L648.7,107.2 L649.2,107.2 L649.7,107.2 L650.2,107.2 L650.7,107.2 L651.2,107.2 L651.7,107.2 L652.2,107.2 L652.7,107.2 L653.2,107.2 L653.7,107.2 L654.2,107.2 L654.7,107.2 L655.2,107.2 L655.7,107.2 L656.2,107.2 L656.7,107.2 L657.2,107.2 L657.7,107.2 L658.2,107.2 L658.7,107.2 L659.2,107.2 L659.7,107.2 L660.2,107.2 L660.7,107.2 L661.2,107.2 L661.7,107.2 L662.2,107.2 L662.7,107.2 L663.2,107.2 L663.7,107.2 L664.2,107.2 L664.7,107.2 L665.2,107.2 L665.7,107.2 L666.2,107.2 L666.7,107.2 L667.2,107.2 L667.7,107.2 L668.2,107.2 L668.7,107.2 L669.2,107.2 L669.7,107.2 L670.2,107.2 L670.7,107.2 L671.2,107.2 L671.7,107.2 L672.2,107.2 L672.7,107.2 L673.2,107.2 L673.7,107.2 L674.2,107.2 L674.7,107.2 L675.2,107.2"/>
<path stroke="#000" d="M130.2,332.4 L130.7,332.4 L131.2,332.3 L131.7,332.3 L132.2,332.3 L132.7,332.2 L133.2,332.2 L133.7,332.1 L134.2,332.1 L134.7,332.1 L135.2,332.0 L135.7,331.9 L136.2,331.9 L136.7,331.8 L137.2,331.7 L137.7,331.5 L138.2,331.4 L138.7,331.3 L139.2,331.1 L139.7,331.0 L140.2,330.8 L140.7,330.7 L141.2,330.5 L141.7,330.3 L142.2,330.2 L142.7,330.0 L143.2,329.9 L143.7,329.7 L144.2,329.6 L144.7,329.4 L145.2,329.3 L145.7,329.1 L146.2,329.0 L146.7,328.8 L147.2,328.7 L147.7,328.5 L148.2,328.4 L148.7,328.2 L149.2,328.1 L149.7,328.0 L150.2,327.8 L150.7,327.7 L151.2,327.5 L151.7,327.4 L152.2,327.3 L152.7,327.1 L153.2,327.0 L153.7,326.9 L154.2,326.9 L154.7,326.8 L155.2,326.7 L155.7,326.7 L156.2,326.6 L156.7,326.5 L157.2,326.5 L157.7,326.4 L158.2,326.4 L158.7,326.4 L159.2,326.3 L159.7,326.3 L160.2,326.2 L160.7,326.1 L161.2,325.9 L161.7,325.8 L162.2,325.5 L162.7,325.3 L163.2,325.0 L163.7,324.7 L164.2,324.4 L164.7,324.1 L165.2,323.8 L165.7,323.5 L166.2,323.2 L166.7,322.9 L167.2,322.6 L167.7,322.3 L168.2,322.0 L168.7,321.7 L169.2,321.4 L169.7,321.1 L170.2,320.8 L170.7,320.4 L171.2,320.1 L171.7,319.9 L172.2,319.6 L172.7,319.3 L173.2,319.1 L173.7,319.0 L174.2,318.9 L174.7,318.8 L175.2,318.8 L175.7,318.7 L176.2,318.7 L176.7,318.6 L177.2,318.5 L177.7,318.3 L178.2,318.0 L178.7,317.7 L179.2,317.2 L179.7,316.6 L180.2,315.9 L180.7,315.1 L181.2,314.2 L181.7,313.2 L182.2,312.1 L182.7,310.8 L183.2,309.4 L183.7,307.9 L184.2,306.3 L184.7,304.8 L185.2,303.4 L185.7,302.1 L186.2,301.0 L186.7,300.1 L187.2,299.4 L187.7,298.9 L188.2,298.6 L188.7,298.5 L189.2,298.6 L189.7,298.9 L190.2,299.3 L190.7,299.9 L191.2,300.7 L191.7,301.6 L192.2,302.6 L192.7,303.8 L193.2,305.0 L193.7,306.4 L194.2,307.8 L194.7,309.2 L195.2,310.7 L195.7,312.1 L196.2,313.4 L196.7,314.7 L197.2,315.9 L197.7,316.9 L198.2,317.9 L198.7,318.8 L199.2,319.7 L199.7,320.5 L200.2,321.2 L200.7,321.9 L201.2,322.5 L201.7,323.0 L202.2,323.5 L202.7,324.0 L203.2,324.4 L203.7,324.9 L204.2,325.3 L204.7,325.6 L205.2,326.0 L205.7,326.4 L206.2,326.7 L206.7,327.0 L207.2,327.3 L207.7,327.6 L208.2,327.9 L208.7,328.2 L209.2,328.5 L209.7,328.7 L210.2,329.0 L210.7,329.2 L211.2,329.4 L211.7,329.6 L212.2,329.8 L212.7,330.0 L213.2,330.1 L213.7,330.2 L214.2,330.3 L214.7,330.3 L215.2,330.3 L215.7,330.2 L216.2,330.1 L216.7,329.9 L217.2,329.7 L217.7,329.4 L218.2,329.1 L218.7,328.8 L219.2,328.5 L219.7,328.1 L220.2,327.6 L220.7,327.2 L221.2,326.7 L221.7,326.1 L222.2,325.6 L222.7,325.0 L223.2,324.3 L223.7,323.6 L224.2,322.9 L224.7,322.2 L225.2,321.4 L225.7,320.5 L226.2,319.6 L226.7,318.7 L227.2,317.7 L227.7,316.7 L228.2,315.6 L228.7,314.5 L229.2,313.4 L229.7,312.3 L230.2,311.1 L230.7,310.0 L231.2,308.9 L231.7,307.9 L232.2,306.9 L232.7,305.9 L233.2,304.9 L233.7,304.0 L234.2,303.2 L234.7,302.3 L235.2,301.5 L235.7,300.8 L236.2,300.1 L236.7,299.4 L237.2,298.9 L237.7,298.4 L238.2,297.9 L238.7,297.5 L239.2,297.3 L239.7,297.1 L240.2,297.0 L240.7,297.1 L241.2,297.2 L241.7,297.3 L242.2,297.4 L242.7,297.6 L243.2,297.8 L243.7,297.9 L244.2,298.1 L244.7,298.2 L245.2,298.4 L245.7,298.5 L246.2,298.4 L246.7,298.3 L247.2,298.0 L247.7,297.5 L248.2,297.0 L248.7,296.4 L249.2,295.9 L249.7,295.3 L250.2,294.8 L250.7,294.3 L251.2,293.9 L251.7,293.4 L252.2,293.1 L252.7,292.9 L253.2,293.0 L253.7,293.4 L254.2,294.1 L254.7,295.0 L255.2,296.2 L255.7,297.5 L256.2,298.9 L256.7,300.4 L257.2,301.9 L257.7,303.4 L258.2,305.1 L258.7,306.7 L259.2,308.4 L259.7,310.0 L260.2,311.7 L260.7,313.2 L261.2,314.7 L261.7,316.1 L262.2,317.2 L262.7,318.2 L263.2,319.0 L263.7,319.7 L264.2,320.2 L264.7,320.6 L265.2,320.8 L265.7,320.9 L266.2,320.8 L266.7,320.5 L267.2,320.1 L267.7,319.4 L268.2,318.6 L268.7,317.7 L269.2,316.6 L269.7,315.6 L270.2,314.8 L270.7,314.1 L271.2,313.5 L271.7,313.1 L272.2,312.9 L272.7,312.7 L273.2,312.5 L273.7,312.4 L274.2,312.3 L274.7,312.2 L275.2,312.2 L275.7,312.1 L276.2,312.1 L276.7,312.1 L277.2,312.0 L277.7,312.0 L278.2,312.0 L278.7,312.0 L279.2,312.0 L279.7,312.0 L280.2,312.0 L280.7,312.1 L281.2,312.1 L281.7,312.3 L282.2,312.5 L282.7,312.9 L283.2,313.3 L283.7,313.9 L284.2,314.6 L284.7,315.4 L285.2,316.2 L285.7,317.1 L286.2,318.0 L286.7,319.0 L287.2,319.9 L287.7,320.8 L288.2,321.5 L288.7,322.2 L289.2,322.6 L289.7,322.9 L290.2,323.0 L290.7,323.1 L291.2,323.0 L291.7,322.9 L292.2,322.8 L292.7,322.7 L293.2,322.5 L293.7,322.3 L294.2,322.2 L294.7,322.1 L295.2,322.1 L295.7,322.1 L296.2,322.1 L296.7,322.2 L297.2,322.3 L297.7,322.4 L298.2,322.5 L298.7,322.6 L299.2,322.7 L299.7,322.8 L300.2,322.9 L300.7,323.0 L301.2,323.1 L301.7,323.1 L302.2,323.1 L302.7,323.1 L303.2,323.0 L303.7,322.9 L304.2,322.8 L304.7,322.7 L305.2,322.5 L305.7,322.5 L306.2,322.4 L306.7,322.5 L307.2,322.6 L307.7,322.7 L308.2,323.0 L308.7,323.3 L309.2,323.6 L309.7,324.0 L310.2,324.4 L310.7,324.7 L311.2,325.1 L311.7,325.5 L312.2,325.9 L312.7,326.2 L313.2,326.6 L313.7,327.0 L314.2,327.3 L314.7,327.7 L315.2,328.0 L315.7,328.4 L316.2,328.8 L316.7,329.1 L317.2,329.4 L317.7,329.8 L318.2,330.0 L318.7,330.3 L319.2,330.5 L319.7,330.6 L320.2,330.6 L320.7,330.6 L321.2,330.6 L321.7,330.4 L322.2,330.2 L322.7,329.8 L323.2,329.4 L323.7,328.8 L324.2,328.1 L324.7,327.3 L325.2,326.4 L325.7,325.5 L326.2,324.6 L326.7,323.7 L327.2,322.8 L327.7,321.8 L328.2,320.8 L328.7,319.8 L329.2,318.8 L329.7,317.8 L330.2,316.9 L330.7,316.0 L331.2,315.2 L331.7,314.6 L332.2,314.2 L332.7,313.9 L333.2,313.8 L333.7,313.9 L334.2,314.0 L334.7,314.3 L335.2,314.7 L335.7,315.3 L336.2,316.1 L336.7,317.1 L337.2,318.1 L337.7,319.2 L338.2,320.2 L338.7,321.1 L339.2,321.9 L339.7,322.6 L340.2,323.2 L340.7,323.8 L341.2,324.3 L341.7,324.8 L342.2,325.2 L342.7,325.6 L343.2,325.9 L343.7,326.1 L344.2,326.4 L344.7,326.5 L345.2,326.6 L345.7,326.7 L346.2,326.7 L346.7,326.6 L347.2,326.4 L347.7,326.2 L348.2,325.9 L348.7,325.4 L349.2,324.9 L349.7,324.3 L350.2,323.5 L350.7,322.5 L351.2,321.3 L351.7,319.9 L352.2,318.4 L352.7,316.7 L353.2,314.9 L353.7,313.0 L354.2,311.1 L354.7,309.3 L355.2,307.5 L355.7,305.8 L356.2,304.2 L356.7,302.8 L357.2,301.6 L357.7,300.6 L358.2,299.8 L358.7,299.3 L359.2,299.0 L359.7,298.9 L360.2,299.0 L360.7,299.2 L361.2,299.7 L361.7,300.5 L362.2,301.5 L362.7,302.7 L363.2,303.9 L363.7,305.2 L364.2,306.4 L364.7,307.5 L365.2,308.6 L365.7,309.7 L366.2,310.6 L366.7,311.5 L367.2,312.2 L367.7,312.7 L368.2,313.2 L368.7,313.5 L369.2,313.7 L369.7,313.9 L370.2,314.0 L370.7,314.1 L371.2,314.1 L371.7,314.2 L372.2,314.2 L372.7,314.2 L373.2,314.2 L373.7,314.3 L374.2,314.3 L374.7,314.4 L375.2,314.5 L375.7,314.7 L376.2,314.9 L376.7,315.1 L377.2,315.4 L377.7,315.6 L378.2,315.8 L378.7,316.0 L379.2,316.2 L379.7,316.4 L380.2,316.5 L380.7,316.6 L381.2,316.6 L381.7,316.6 L382.2,316.4 L382.7,316.2 L383.2,315.8 L383.7,315.2 L384.2,314.6 L384.7,313.9 L385.2,313.2 L385.7,312.4 L386.2,311.7 L386.7,311.0 L387.2,310.2 L387.7,309.5 L388.2,308.7 L388.7,308.0 L389.2,307.3 L389.7,306.6 L390.2,306.0 L390.7,305.6 L391.2,305.2 L391.7,305.0 L392.2,304.9 L392.7,304.9 L393.2,305.0 L393.7,305.1 L394.2,305.3 L394.7,305.4 L395.2,305.6 L395.7,305.7 L396.2,305.8 L396.7,306.0 L397.2,306.1 L397.7,306.2 L398.2,306.4 L398.7,306.5 L399.2,306.5 L399.7,306.4 L400.2,306.2 L400.7,305.8 L401.2,305.2 L401.7,304.4 L402.2,303.5 L402.7,302.6 L403.2,301.7 L403.7,301.0 L404.2,300.3 L404.7,299.8 L405.2,299.4 L405.7,299.0 L406.2,298.7 L406.7,298.5 L407.2,298.4 L407.7,298.4 L408.2,298.5 L408.7,298.6 L409.2,298.8 L409.7,299.1 L410.2,299.4 L410.7,299.7 L411.2,300.0 L411.7,300.4 L412.2,300.7 L412.7,301.1 L413.2,301.5 L413.7,301.9 L414.2,302.3 L414.7,302.7 L415.2,303.1 L415.7,303.5 L416.2,303.9 L416.7,304.4 L417.2,304.8 L417.7,305.2 L418.2,305.7 L418.7,306.2 L419.2,306.7 L419.7,307.2 L420.2,307.8 L420.7,308.4 L421.2,309.0 L421.7,309.5 L422.2,310.1 L422.7,310.6 L423.2,311.0 L423.7,311.3 L424.2,311.6 L424.7,311.8 L425.2,311.8 L425.7,311.8 L426.2,311.5 L426.7,311.2 L427.2,310.7 L427.7,310.0 L428.2,309.2 L428.7,308.3 L429.2,307.3 L429.7,306.1 L430.2,304.9 L430.7,303.6 L431.2,302.3 L431.7,300.9 L432.2,299.6 L432.7,298.3 L433.2,297.0 L433.7,295.8 L434.2,294.7 L434.7,293.6 L435.2,292.6 L435.7,291.7 L436.2,290.7 L436.7,289.8 L437.2,288.7 L437.7,287.6 L438.2,286.4 L438.7,285.1 L439.2,283.7 L439.7,282.2 L440.2,280.6 L440.7,279.1 L441.2,277.7 L441.7,276.4 L442.2,275.3 L442.7,274.4 L443.2,273.6 L443.7,273.1 L444.2,272.9 L444.7,272.9 L445.2,273.2 L445.7,273.9 L446.2,274.9 L446.7,276.2 L447.2,277.6 L447.7,279.1 L448.2,280.7 L448.7,282.2 L449.2,283.8 L449.7,285.1 L450.2,286.3 L450.7,287.1 L451.2,287.6 L451.7,287.8 L452.2,287.8 L452.7,287.7 L453.2,287.6 L453.7,287.4 L454.2,287.3 L454.7,287.3 L455.2,287.2 L455.7,287.3 L456.2,287.5 L456.7,287.7 L457.2,288.2 L457.7,288.7 L458.2,289.4 L458.7,290.2 L459.2,291.0 L459.7,291.8 L460.2,292.6 L460.7,293.5 L461.2,294.2 L461.7,295.0 L462.2,295.8 L462.7,296.4 L463.2,297.0 L463.7,297.4 L464.2,297.7 L464.7,297.8 L465.2,297.7 L465.7,297.4 L466.2,297.1 L466.7,296.8 L467.2,296.4 L467.7,296.1 L468.2,295.9 L468.7,295.6 L469.2,295.4 L469.7,295.3 L470.2,295.3 L470.7,295.5 L471.2,295.8 L471.7,296.4 L472.2,297.1 L472.7,298.0 L473.2,299.0 L473.7,300.0 L474.2,301.1 L474.7,302.1 L475.2,303.0 L475.7,303.8 L476.2,304.6 L476.7,305.2 L477.2,305.8 L477.7,306.2 L478.2,306.4 L478.7,306.5 L479.2,306.3 L479.7,306.0 L480.2,305.4 L480.7,304.6 L481.2,303.5 L481.7,302.1 L482.2,300.4 L482.7,298.5 L483.2,296.4 L483.7,294.2 L484.2,292.0 L484.7,289.7 L485.2,287.5 L485.7,285.3 L486.2,283.3 L486.7,281.3 L487.2,279.5 L487.7,277.9 L488.2,276.4 L488.7,275.2 L489.2,274.3 L489.7,273.6 L490.2,273.3 L490.7,273.1 L491.2,273.2 L491.7,273.6 L492.2,274.2 L492.7,275.1 L493.2,276.1 L493.7,277.3 L494.2,278.6 L494.7,279.9 L495.2,281.2 L495.7,282.5 L496.2,283.8 L496.7,285.0 L497.2,286.0 L497.7,286.8 L498.2,287.3 L498.7,287.5 L499.2,287.3 L499.7,286.9 L500.2,286.0 L500.7,284.7 L501.2,283.0 L501.7,281.1 L502.2,279.0 L502.7,276.9 L503.2,274.9 L503.7,272.8 L504.2,270.8 L504.7,268.9 L505.2,267.1 L505.7,265.5 L506.2,264.2 L506.7,263.2 L507.2,262.4 L507.7,261.8 L508.2,261.6 L508.7,261.5 L509.2,261.7 L509.7,262.1 L510.2,262.8 L510.7,263.6 L511.2,264.6 L511.7,265.7 L512.2,266.7 L512.7,267.8 L513.2,268.9 L513.7,270.0 L514.2,271.1 L514.7,272.2 L515.2,273.3 L515.7,274.3 L516.2,275.2 L516.7,276.1 L517.2,276.9 L517.7,277.6 L518.2,278.3 L518.7,278.9 L519.2,279.5 L519.7,280.1 L520.2,280.6 L520.7,281.2 L521.2,281.8 L521.7,282.3 L522.2,282.9 L522.7,283.6 L523.2,284.3 L523.7,285.2 L524.2,286.2 L524.7,287.3 L525.2,288.5 L525.7,289.7 L526.2,291.0 L526.7,292.2 L527.2,293.5 L527.7,294.7 L528.2,295.9 L528.7,297.2 L529.2,298.4 L529.7,299.6 L530.2,300.7 L530.7,301.7 L531.2,302.6 L531.7,303.3 L532.2,303.8 L532.7,304.1 L533.2,304.4 L533.7,304.6 L534.2,304.7 L534.7,304.7 L535.2,304.6 L535.7,304.5 L536.2,304.3 L536.7,304.1 L537.2,303.9 L537.7,303.6 L538.2,303.4 L538.7,303.1 L539.2,302.8 L539.7,302.5 L540.2,302.3 L540.7,302.0 L541.2,301.7 L541.7,301.4 L542.2,301.1 L542.7,300.8 L543.2,300.5 L543.7,300.2 L544.2,299.9 L544.7,299.6 L545.2,299.3 L545.7,299.0 L546.2,298.6 L546.7,298.3 L547.2,297.9 L547.7,297.5 L548.2,297.0 L548.7,296.4 L549.2,295.8 L549.7,295.2 L550.2,294.5 L550.7,293.8 L551.2,293.1 L551.7,292.4 L552.2,291.8 L552.7,291.2 L553.2,290.7 L553.7,290.2 L554.2,289.8 L554.7,289.4 L555.2,289.0 L555.7,288.7 L556.2,288.3 L556.7,288.0 L557.2,287.7 L557.7,287.3 L558.2,287.0 L558.7,286.6 L559.2,286.2 L559.7,285.8 L560.2,285.4 L560.7,284.9 L561.2,284.5 L561.7,284.1 L562.2,283.8 L562.7,283.7 L563.2,283.6 L563.7,283.8 L564.2,284.1 L564.7,284.8 L565.2,285.7 L565.7,286.8 L566.2,288.1 L566.7,289.6 L567.2,291.0 L567.7,292.5 L568.2,294.0 L568.7,295.5 L569.2,297.0 L569.7,298.4 L570.2,299.6 L570.7,300.5 L571.2,301.1 L571.7,301.5 L572.2,301.7 L572.7,301.9 L573.2,301.9 L573.7,302.0 L574.2,302.1 L574.7,302.2 L575.2,302.4 L575.7,302.6 L576.2,302.9 L576.7,303.3 L577.2,303.8 L577.7,304.4 L578.2,305.2 L578.7,306.0 L579.2,306.9 L579.7,307.9 L580.2,308.9 L580.7,309.9 L581.2,310.8 L581.7,311.7 L582.2,312.4 L582.7,313.1 L583.2,313.6 L583.7,314.1 L584.2,314.5 L584.7,314.7 L585.2,314.8 L585.7,314.8 L586.2,314.8 L586.7,314.6 L587.2,314.4 L587.7,314.1 L588.2,313.7 L588.7,313.3 L589.2,313.0 L589.7,312.6 L590.2,312.3 L590.7,312.1 L591.2,312.0 L591.7,311.9 L592.2,312.0 L592.7,312.2 L593.2,312.5 L593.7,312.9 L594.2,313.4 L594.7,313.9 L595.2,314.6 L595.7,315.2 L596.2,315.9 L596.7,316.5 L597.2,317.1 L597.7,317.6 L598.2,318.0 L598.7,318.4 L599.2,318.7 L599.7,318.8 L600.2,318.9 L600.7,318.7 L601.2,318.4 L601.7,318.0 L602.2,317.4 L602.7,316.7 L603.2,315.8 L603.7,315.0 L604.2,314.2 L604.7,313.5 L605.2,313.0 L605.7,312.7 L606.2,312.6 L606.7,312.6 L607.2,312.9 L607.7,313.3 L608.2,313.9 L608.7,314.6 L609.2,315.5 L609.7,316.4 L610.2,317.3 L610.7,318.2 L611.2,319.0 L611.7,319.8 L612.2,320.5 L612.7,321.1 L613.2,321.6 L613.7,322.1 L614.2,322.4 L614.7,322.6 L615.2,322.7 L615.7,322.8 L616.2,322.8 L616.7,322.7 L617.2,322.7 L617.7,322.7 L618.2,322.7 L618.7,322.6 L619.2,322.6 L619.7,322.6 L620.2,322.6 L620.7,322.6 L621.2,322.8 L621.7,323.0 L622.2,323.2 L622.7,323.5 L623.2,323.8 L623.7,324.1 L624.2,324.5 L624.7,324.8 L625.2,325.2 L625.7,325.5 L626.2,325.9 L626.7,326.2 L627.2,326.6 L627.7,326.9 L628.2,327.1 L628.7,327.4 L629.2,327.7 L629.7,328.0 L630.2,328.2 L630.7,328.5 L631.2,328.7 L631.7,329.0 L632.2,329.2 L632.7,329.4 L633.2,329.6 L633.7,329.8 L634.2,330.0 L634.7,330.2 L635.2,330.4 L635.7,330.6 L636.2,330.8 L636.7,331.0 L637.2,331.1 L637.7,331.3 L638.2,331.4 L638.7,331.6 L639.2,331.7 L639.7,331.8 L640.2,331.9 L640.7,332.0 L641.2,332.1 L641.7,332.2 L642.2,332.2 L642.7,332.3 L643.2,332.3 L643.7,332.4 L644.2,332.4"/>
<path stroke="#f00" d="M51.2,332.5 L51.7,332.5 L52.2,332.5 L52.7,332.5 L53.2,332.5 L53.7,332.5 L54.2,332.5 L54.7,332.5 L55.2,332.5 L55.7,332.5 L56.2,332.5 L56.7,332.5 L57.2,332.5 L57.7,332.5 L58.2,332.5 L58.7,332.5 L59.2,332.5 L59.7,332.5 L60.2,332.5 L60.7,332.5 L61.2,332.5 L61.7,332.5 L62.2,332.5 L62.7,332.5 L63.2,332.5 L63.7,332.5 L64.2,332.5 L64.7,332.5 L65.2,332.5 L65.7,332.5 L66.2,332.5 L66.7,332.5 L67.2,332.5 L67.7,332.5 L68.2,332.5 L68.7,332.5 L69.2,332.5 L69.7,332.5 L70.2,332.5 L70.7,332.5 L71.2,332.5 L71.7,332.5 L72.2,332.5 L72.7,332.5 L73.2,332.5 L73.7,332.5 L74.2,332.5 L74.7,332.5 L75.2,332.5 L75.7,332.5 L76.2,332.5 L76.7,332.5 L77.2,332.5 L77.7,332.5 L78.2,332.5 L78.7,332.5 L79.2,332.5 L79.7,332.5 L80.2,332.5 L80.7,332.5 L81.2,332.5 L81.7,332.5 L82.2,332.5 L82.7,332.5 L83.2,332.5 L83.7,332.5 L84.2,332.5 L84.7,332.5 L85.2,332.5 L85.7,332.5 L86.2,332.5 L86.7,332.5 L87.2,332.5 L87.7,332.5 L88.2,332.5 L88.7,332.5 L89.2,332.5 L89.7,332.5 L90.2,332.5 L90.7,332.5 L91.2,332.5 L91.7,332.5 L92.2,332.5 L92.7,332.5 L93.2,332.5 L93.7,332.5 L94.2,332.5 L94.7,332.5 L95.2,332.5 L95.7,332.5 L96.2,332.5 L96.7,332.5 L97.2,332.5 L97.7,332.5 L98.2,332.5 L98.7,332.5 L99.2,332.5 L99.7,332.5 L100.2,332.5 L100.7,332.5 L101.2,332.5 L101.7,332.5 L102.2,332.5 L102.7,332.5 L103.2,332.5 L103.7,332.5 L104.2,332.5 L104.7,332.5 L105.2,332.5 L105.7,332.5 L106.2,332.5 L106.7,332.5 L107.2,332.5 L107.7,332.5 L108.2,332.5 L108.7,332.5 L109.2,332.5 L109.7,332.5 L110.2,332.5 L110.7,332.5 L111.2,332.5 L111.7,332.5 L112.2,332.5 L112.7,332.5 L113.2,332.5 L113.7,332.5 L114.2,332.5 L114.7,332.5 L115.2,332.5 L115.7,332.5 L116.2,332.5 L116.7,332.5 L117.2,332.5 L117.7,332.5 L118.2,332.5 L118.7,332.5 L119.2,332.5 L119.7,332.5 L120.2,332.5 L120.7,332.5 L121.2,332.5 L121.7,332.5 L122.2,332.5 L122.7,332.5 L123.2,332.5 L123.7,332.5 L124.2,332.5 L124.7,332.5 L125.2,332.5 L125.7,332.5 L126.2,332.5 L126.7,332.5 L127.2,332.5 L127.7,332.5 L128.2,332.5 L128.7,332.5 L129.2,332.5 L129.7,332.6 L130.2,332.6 L130.7,332.6 L131.2,332.7 L131.7,332.7 L132.2,332.7 L132.7,332.8 L133.2,332.8 L133.7,332.9 L134.2,332.9 L134.7,332.9 L135.2,333.0 L135.7,333.1 L136.2,333.1 L136.7,333.2 L137.2,333.3 L137.7,333.5 L138.2,333.6 L138.7,333.7 L139.2,333.9 L139.7,334.0 L140.2,334.2 L140.7,334.3 L141.2,334.5 L141.7,334.7 L142.2,334.8 L142.7,335.0 L143.2,335.1 L143.7,335.3 L144.2,335.4 L144.7,335.6 L145.2,335.7 L145.7,335.9 L146.2,336.0 L146.7,336.2 L147.2,336.3 L147.7,336.5 L148.2,336.6 L148.7,336.8 L149.2,336.9 L149.7,337.0 L150.2,337.2 L150.7,337.3 L151.2,337.5 L151.7,337.6 L152.2,337.7 L152.7,337.9 L153.2,338.0 L153.7,338.1 L154.2,338.1 L154.7,338.2 L155.2,338.3 L155.7,338.3 L156.2,338.4 L156.7,338.5 L157.2,338.5 L157.7,338.6 L158.2,338.6 L158.7,338.6 L159.2,338.7 L159.7,338.7 L160.2,338.8 L160.7,338.9 L161.2,339.1 L161.7,339.2 L162.2,339.5 L162.7,339.7 L163.2,340.0 L163.7,340.3 L164.2,340.6 L164.7,340.9 L165.2,341.2 L165.7,341.5 L166.2,341.8 L166.7,342.1 L167.2,342.4 L167.7,342.7 L168.2,343.0 L168.7,343.3 L169.2,343.6 L169.7,343.9 L170.2,344.2 L170.7,344.6 L171.2,344.9 L171.7,345.1 L172.2,345.4 L172.7,345.7 L173.2,345.9 L173.7,346.0 L174.2,346.1 L174.7,346.2 L175.2,346.2 L175.7,346.3 L176.2,346.3 L176.7,346.4 L177.2,346.5 L177.7,346.7 L178.2,347.0 L178.7,347.3 L179.2,347.8 L179.7,348.4 L180.2,349.1 L180.7,349.9 L181.2,350.8 L181.7,351.8 L182.2,352.9 L182.7,354.2 L183.2,355.6 L183.7,357.1 L184.2,358.7 L184.7,360.2 L185.2,361.6 L185.7,362.9 L186.2,364.0 L186.7,364.9 L187.2,365.6 L187.7,366.1 L188.2,366.4 L188.7,366.5 L189.2,366.4 L189.7,366.1 L190.2,365.7 L190.7,365.1 L191.2,364.3 L191.7,363.4 L192.2,362.4 L192.7,361.2 L193.2,360.0 L193.7,358.6 L194.2,357.2 L194.7,355.8 L195.2,354.3 L195.7,352.9 L196.2,351.6 L196.7,350.3 L197.2,349.1 L197.7,348.1 L198.2,347.1 L198.7,346.2 L199.2,345.3 L199.7,344.5 L200.2,343.8 L200.7,343.1 L201.2,342.5 L201.7,342.0 L202.2,341.5 L202.7,341.0 L203.2,340.6 L203.7,340.1 L204.2,339.7 L204.7,339.4 L205.2,339.0 L205.7,338.6 L206.2,338.3 L206.7,338.0 L207.2,337.7 L207.7,337.4 L208.2,337.1 L208.7,336.8 L209.2,336.5 L209.7,336.3 L210.2,336.0 L210.7,335.8 L211.2,335.6 L211.7,335.4 L212.2,335.2 L212.7,335.0 L213.2,334.9 L213.7,334.8 L214.2,334.7 L214.7,334.7 L215.2,334.7 L215.7,334.8 L216.2,334.9 L216.7,335.1 L217.2,335.3 L217.7,335.6 L218.2,335.9 L218.7,336.2 L219.2,336.5 L219.7,336.9 L220.2,337.4 L220.7,337.8 L221.2,338.3 L221.7,338.9 L222.2,339.4 L222.7,340.0 L223.2,340.7 L223.7,341.4 L224.2,342.1 L224.7,342.8 L225.2,343.6 L225.7,344.5 L226.2,345.4 L226.7,346.3 L227.2,347.3 L227.7,348.3 L228.2,349.4 L228.7,350.5 L229.2,351.6 L229.7,352.7 L230.2,353.9 L230.7,355.0 L231.2,356.1 L231.7,357.1 L232.2,358.1 L232.7,359.1 L233.2,360.1 L233.7,361.0 L234.2,361.8 L234.7,362.7 L235.2,363.5 L235.7,364.2 L236.2,364.9 L236.7,365.6 L237.2,366.1 L237.7,366.6 L238.2,367.1 L238.7,367.5 L239.2,367.7 L239.7,367.9 L240.2,368.0 L240.7,367.9 L241.2,367.8 L241.7,367.7 L242.2,367.6 L242.7,367.4 L243.2,367.2 L243.7,367.1 L244.2,366.9 L244.7,366.8 L245.2,366.6 L245.7,366.5 L246.2,366.6 L246.7,366.7 L247.2,367.0 L247.7,367.5 L248.2,368.0 L248.7,368.6 L249.2,369.1 L249.7,369.7 L250.2,370.2 L250.7,370.7 L251.2,371.1 L251.7,371.6 L252.2,371.9 L252.7,372.1 L253.2,372.0 L253.7,371.6 L254.2,370.9 L254.7,370.0 L255.2,368.8 L255.7,367.5 L256.2,366.1 L256.7,364.6 L257.2,363.1 L257.7,361.6 L258.2,359.9 L258.7,358.3 L259.2,356.6 L259.7,355.0 L260.2,353.3 L260.7,351.8 L261.2,350.3 L261.7,348.9 L262.2,347.8 L262.7,346.8 L263.2,346.0 L263.7,345.3 L264.2,344.8 L264.7,344.4 L265.2,344.2 L265.7,344.1 L266.2,344.2 L266.7,344.5 L267.2,344.9 L267.7,345.6 L268.2,346.4 L268.7,347.3 L269.2,348.4 L269.7,349.4 L270.2,350.2 L270.7,350.9 L271.2,351.5 L271.7,351.9 L272.2,352.1 L272.7,352.3 L273.2,352.5 L273.7,352.6 L274.2,352.7 L274.7,352.8 L275.2,352.8 L275.7,352.9 L276.2,352.9 L276.7,352.9 L277.2,353.0 L277.7,353.0 L278.2,353.0 L278.7,353.0 L279.2,353.0 L279.7,353.0 L280.2,353.0 L280.7,352.9 L281.2,352.9 L281.7,352.7 L282.2,352.5 L282.7,352.1 L283.2,351.7 L283.7,351.1 L284.2,350.4 L284.7,349.6 L285.2,348.8 L285.7,347.9 L286.2,347.0 L286.7,346.0 L287.2,345.1 L287.7,344.2 L288.2,343.5 L288.7,342.8 L289.2,342.4 L289.7,342.1 L290.2,342.0 L290.7,341.9 L291.2,342.0 L291.7,342.1 L292.2,342.2 L292.7,342.3 L293.2,342.5 L293.7,342.7 L294.2,342.8 L294.7,342.9 L295.2,342.9 L295.7,342.9 L296.2,342.9 L296.7,342.8 L297.2,342.7 L297.7,342.6 L298.2,342.5 L298.7,342.4 L299.2,342.3 L299.7,342.2 L300.2,342.1 L300.7,342.0 L301.2,341.9 L301.7,341.9 L302.2,341.9 L302.7,341.9 L303.2,342.0 L303.7,342.1 L304.2,342.2 L304.7,342.3 L305.2,342.5 L305.7,342.5 L306.2,342.6 L306.7,342.5 L307.2,342.4 L307.7,342.3 L308.2,342.0 L308.7,341.7 L309.2,341.4 L309.7,341.0 L310.2,340.6 L310.7,340.3 L311.2,339.9 L311.7,339.5 L312.2,339.1 L312.7,338.8 L313.2,338.4 L313.7,338.0 L314.2,337.7 L314.7,337.3 L315.2,337.0 L315.7,336.6 L316.2,336.2 L316.7,335.9 L317.2,335.6 L317.7,335.2 L318.2,335.0 L318.7,334.7 L319.2,334.5 L319.7,334.4 L320.2,334.4 L320.7,334.4 L321.2,334.4 L321.7,334.6 L322.2,334.8 L322.7,335.2 L323.2,335.6 L323.7,336.2 L324.2,336.9 L324.7,337.7 L325.2,338.6 L325.7,339.5 L326.2,340.4 L326.7,341.3 L327.2,342.2 L327.7,343.2 L328.2,344.2 L328.7,345.2 L329.2,346.2 L329.7,347.2 L330.2,348.1 L330.7,349.0 L331.2,349.8 L331.7,350.4 L332.2,350.8 L332.7,351.1 L333.2,351.2 L333.7,351.1 L334.2,351.0 L334.7,350.7 L335.2,350.3 L335.7,349.7 L336.2,348.9 L336.7,347.9 L337.2,346.9 L337.7,345.8 L338.2,344.8 L338.7,343.9 L339.2,343.1 L339.7,342.4 L340.2,341.8 L340.7,341.2 L341.2,340.7 L341.7,340.2 L342.2,339.8 L342.7,339.4 L343.2,339.1 L343.7,338.9 L344.2,338.6 L344.7,338.5 L345.2,338.4 L345.7,338.3 L346.2,338.3 L346.7,338.4 L347.2,338.6 L347.7,338.8 L348.2,339.1 L348.7,339.6 L349.2,340.1 L349.7,340.7 L350.2,341.5 L350.7,342.5 L351.2,343.7 L351.7,345.1 L352.2,346.6 L352.7,348.3 L353.2,350.1 L353.7,352.0 L354.2,353.9 L354.7,355.7 L355.2,357.5 L355.7,359.2 L356.2,360.8 L356.7,362.2 L357.2,363.4 L357.7,364.4 L358.2,365.2 L358.7,365.7 L359.2,366.0 L359.7,366.1 L360.2,366.0 L360.7,365.8 L361.2,365.3 L361.7,364.5 L362.2,363.5 L362.7,362.3 L363.2,361.1 L363.7,359.8 L364.2,358.6 L364.7,357.5 L365.2,356.4 L365.7,355.3 L366.2,354.4 L366.7,353.5 L367.2,352.8 L367.7,352.3 L368.2,351.8 L368.7,351.5 L369.2,351.3 L369.7,351.1 L370.2,351.0 L370.7,350.9 L371.2,350.9 L371.7,350.8 L372.2,350.8 L372.7,350.8 L373.2,350.8 L373.7,350.7 L374.2,350.7 L374.7,350.6 L375.2,350.5 L375.7,350.3 L376.2,350.1 L376.7,349.9 L377.2,349.6 L377.7,349.4 L378.2,349.2 L378.7,349.0 L379.2,348.8 L379.7,348.6 L380.2,348.5 L380.7,348.4 L381.2,348.4 L381.7,348.4 L382.2,348.6 L382.7,348.8 L383.2,349.2 L383.7,349.8 L384.2,350.4 L384.7,351.1 L385.2,351.8 L385.7,352.6 L386.2,353.3 L386.7,354.0 L387.2,354.8 L387.7,355.5 L388.2,356.3 L388.7,357.0 L389.2,357.7 L389.7,358.4 L390.2,359.0 L390.7,359.4 L391.2,359.8 L391.7,360.0 L392.2,360.1 L392.7,360.1 L393.2,360.0 L393.7,359.9 L394.2,359.7 L394.7,359.6 L395.2,359.4 L395.7,359.3 L396.2,359.2 L396.7,359.0 L397.2,358.9 L397.7,358.8 L398.2,358.6 L398.7,358.5 L399.2,358.5 L399.7,358.6 L400.2,358.8 L400.7,359.2 L401.2,359.8 L401.7,360.6 L402.2,361.5 L402.7,362.4 L403.2,363.3 L403.7,364.0 L404.2,364.7 L404.7,365.2 L405.2,365.6 L405.7,366.0 L406.2,366.3 L406.7,366.5 L407.2,366.6 L407.7,366.6 L408.2,366.5 L408.7,366.4 L409.2,366.2 L409.7,365.9 L410.2,365.6 L410.7,365.3 L411.2,365.0 L411.7,364.6 L412.2,364.3 L412.7,363.9 L413.2,363.5 L413.7,363.1 L414.2,362.7 L414.7,362.3 L415.2,361.9 L415.7,361.5 L416.2,361.1 L416.7,360.6 L417.2,360.2 L417.7,359.8 L418.2,359.3 L418.7,358.8 L419.2,358.3 L419.7,357.8 L420.2,357.2 L420.7,356.6 L421.2,356.0 L421.7,355.5 L422.2,354.9 L422.7,354.4 L423.2,354.0 L423.7,353.7 L424.2,353.4 L424.7,353.2 L425.2,353.2 L425.7,353.2 L426.2,353.5 L426.7,353.8 L427.2,354.3 L427.7,355.0 L428.2,355.8 L428.7,356.7 L429.2,357.7 L429.7,358.9 L430.2,360.1 L430.7,361.4 L431.2,362.7 L431.7,364.1 L432.2,365.4 L432.7,366.7 L433.2,368.0 L433.7,369.2 L434.2,370.3 L434.7,371.4 L435.2,372.4 L435.7,373.3 L436.2,374.3 L436.7,375.2 L437.2,376.3 L437.7,377.4 L438.2,378.6 L438.7,379.9 L439.2,381.3 L439.7,382.8 L440.2,384.4 L440.7,385.9 L441.2,387.3 L441.7,388.6 L442.2,389.7 L442.7,390.6 L443.2,391.4 L443.7,391.9 L444.2,392.1 L444.7,392.1 L445.2,391.8 L445.7,391.1 L446.2,390.1 L446.7,388.8 L447.2,387.4 L447.7,385.9 L448.2,384.3 L448.7,382.8 L449.2,381.2 L449.7,379.9 L450.2,378.7 L450.7,377.9 L451.2,377.4 L451.7,377.2 L452.2,377.2 L452.7,377.3 L453.2,377.4 L453.7,377.6 L454.2,377.7 L454.7,377.7 L455.2,377.8 L455.7,377.7 L456.2,377.5 L456.7,377.3 L457.2,376.8 L457.7,376.3 L458.2,375.6 L458.7,374.8 L459.2,374.0 L459.7,373.2 L460.2,372.4 L460.7,371.5 L461.2,370.8 L461.7,370.0 L462.2,369.2 L462.7,368.6 L463.2,368.0 L463.7,367.6 L464.2,367.3 L464.7,367.2 L465.2,367.3 L465.7,367.6 L466.2,367.9 L466.7,368.2 L467.2,368.6 L467.7,368.9 L468.2,369.1 L468.7,369.4 L469.2,369.6 L469.7,369.7 L470.2,369.7 L470.7,369.5 L471.2,369.2 L471.7,368.6 L472.2,367.9 L472.7,367.0 L473.2,366.0 L473.7,365.0 L474.2,363.9 L474.7,362.9 L475.2,362.0 L475.7,361.2 L476.2,360.4 L476.7,359.8 L477.2,359.2 L477.7,358.8 L478.2,358.6 L478.7,358.5 L479.2,358.7 L479.7,359.0 L480.2,359.6 L480.7,360.4 L481.2,361.5 L481.7,362.9 L482.2,364.6 L482.7,366.5 L483.2,368.6 L483.7,370.8 L484.2,373.0 L484.7,375.3 L485.2,377.5 L485.7,379.7 L486.2,381.7 L486.7,383.7 L487.2,385.5 L487.7,387.1 L488.2,388.6 L488.7,389.8 L489.2,390.7 L489.7,391.4 L490.2,391.7 L490.7,391.9 L491.2,391.8 L491.7,391.4 L492.2,390.8 L492.7,389.9 L493.2,388.9 L493.7,387.7 L494.2,386.4 L494.7,385.1 L495.2,383.8 L495.7,382.5 L496.2,381.2 L496.7,380.0 L497.2,379.0 L497.7,378.2 L498.2,377.7 L498.7,377.5 L499.2,377.7 L499.7,378.1 L500.2,379.0 L500.7,380.3 L501.2,382.0 L501.7,383.9 L502.2,386.0 L502.7,388.1 L503.2,390.1 L503.7,392.2 L504.2,394.2 L504.7,396.1 L505.2,397.9 L505.7,399.5 L506.2,400.8 L506.7,401.8 L507.2,402.6 L507.7,403.2 L508.2,403.4 L508.7,403.5 L509.2,403.3 L509.7,402.9 L510.2,402.2 L510.7,401.4 L511.2,400.4 L511.7,399.3 L512.2,398.3 L512.7,397.2 L513.2,396.1 L513.7,395.0 L514.2,393.9 L514.7,392.8 L515.2,391.7 L515.7,390.7 L516.2,389.8 L516.7,388.9 L517.2,388.1 L517.7,387.4 L518.2,386.7 L518.7,386.1 L519.2,385.5 L519.7,384.9 L520.2,384.4 L520.7,383.8 L521.2,383.2 L521.7,382.7 L522.2,382.1 L522.7,381.4 L523.2,380.7 L523.7,379.8 L524.2,378.8 L524.7,377.7 L525.2,376.5 L525.7,375.3 L526.2,374.0 L526.7,372.8 L527.2,371.5 L527.7,370.3 L528.2,369.1 L528.7,367.8 L529.2,366.6 L529.7,365.4 L530.2,364.3 L530.7,363.3 L531.2,362.4 L531.7,361.7 L532.2,361.2 L532.7,360.9 L533.2,360.6 L533.7,360.4 L534.2,360.3 L534.7,360.3 L535.2,360.4 L535.7,360.5 L536.2,360.7 L536.7,360.9 L537.2,361.1 L537.7,361.4 L538.2,361.6 L538.7,361.9 L539.2,362.2 L539.7,362.5 L540.2,362.7 L540.7,363.0 L541.2,363.3 L541.7,363.6 L542.2,363.9 L542.7,364.2 L543.2,364.5 L543.7,364.8 L544.2,365.1 L544.7,365.4 L545.2,365.7 L545.7,366.0 L546.2,366.4 L546.7,366.7 L547.2,367.1 L547.7,367.5 L548.2,368.0 L548.7,368.6 L549.2,369.2 L549.7,369.8 L550.2,370.5 L550.7,371.2 L551.2,371.9 L551.7,372.6 L552.2,373.2 L552.7,373.8 L553.2,374.3 L553.7,374.8 L554.2,375.2 L554.7,375.6 L555.2,376.0 L555.7,376.3 L556.2,376.7 L556.7,377.0 L557.2,377.3 L557.7,377.7 L558.2,378.0 L558.7,378.4 L559.2,378.8 L559.7,379.2 L560.2,379.6 L560.7,380.1 L561.2,380.5 L561.7,380.9 L562.2,381.2 L562.7,381.3 L563.2,381.4 L563.7,381.2 L564.2,380.9 L564.7,380.2 L565.2,379.3 L565.7,378.2 L566.2,376.9 L566.7,375.4 L567.2,374.0 L567.7,372.5 L568.2,371.0 L568.7,369.5 L569.2,368.0 L569.7,366.6 L570.2,365.4 L570.7,364.5 L571.2,363.9 L571.7,363.5 L572.2,363.3 L572.7,363.1 L573.2,363.1 L573.7,363.0 L574.2,362.9 L574.7,362.8 L575.2,362.6 L575.7,362.4 L576.2,362.1 L576.7,361.7 L577.2,361.2 L577.7,360.6 L578.2,359.8 L578.7,359.0 L579.2,358.1 L579.7,357.1 L580.2,356.1 L580.7,355.1 L581.2,354.2 L581.7,353.3 L582.2,352.6 L582.7,351.9 L583.2,351.4 L583.7,350.9 L584.2,350.5 L584.7,350.3 L585.2,350.2 L585.7,350.2 L586.2,350.2 L586.7,350.4 L587.2,350.6 L587.7,350.9 L588.2,351.3 L588.7,351.7 L589.2,352.0 L589.7,352.4 L590.2,352.7 L590.7,352.9 L591.2,353.0 L591.7,353.1 L592.2,353.0 L592.7,352.8 L593.2,352.5 L593.7,352.1 L594.2,351.6 L594.7,351.1 L595.2,350.4 L595.7,349.8 L596.2,349.1 L596.7,348.5 L597.2,347.9 L597.7,347.4 L598.2,347.0 L598.7,346.6 L599.2,346.3 L599.7,346.2 L600.2,346.1 L600.7,346.3 L601.2,346.6 L601.7,347.0 L602.2,347.6 L602.7,348.3 L603.2,349.2 L603.7,350.0 L604.2,350.8 L604.7,351.5 L605.2,352.0 L605.7,352.3 L606.2,352.4 L606.7,352.4 L607.2,352.1 L607.7,351.7 L608.2,351.1 L608.7,350.4 L609.2,349.5 L609.7,348.6 L610.2,347.7 L610.7,346.8 L611.2,346.0 L611.7,345.2 L612.2,344.5 L612.7,343.9 L613.2,343.4 L613.7,342.9 L614.2,342.6 L614.7,342.4 L615.2,342.3 L615.7,342.2 L616.2,342.2 L616.7,342.3 L617.2,342.3 L617.7,342.3 L618.2,342.3 L618.7,342.4 L619.2,342.4 L619.7,342.4 L620.2,342.4 L620.7,342.4 L621.2,342.2 L621.7,342.0 L622.2,341.8 L622.7,341.5 L623.2,341.2 L623.7,340.9 L624.2,340.5 L624.7,340.2 L625.2,339.8 L625.7,339.5 L626.2,339.1 L626.7,338.8 L627.2,338.4 L627.7,338.1 L628.2,337.9 L628.7,337.6 L629.2,337.3 L629.7,337.0 L630.2,336.8 L630.7,336.5 L631.2,336.3 L631.7,336.0 L632.2,335.8 L632.7,335.6 L633.2,335.4 L633.7,335.2 L634.2,335.0 L634.7,334.8 L635.2,334.6 L635.7,334.4 L636.2,334.2 L636.7,334.0 L637.2,333.9 L637.7,333.7 L638.2,333.6 L638.7,333.4 L639.2,333.3 L639.7,333.2 L640.2,333.1 L640.7,333.0 L641.2,332.9 L641.7,332.8 L642.2,332.8 L642.7,332.7 L643.2,332.7 L643.7,332.6 L644.2,332.6 L644.7,332.5 L645.2,332.5 L645.7,332.5 L646.2,332.5 L646.7,332.5 L647.2,332.5 L647.7,332.5 L648.2,332.5 L648.7,332.5 L649.2,332.5 L649.7,332.5 L650.2,332.5 L650.7,332.5 L651.2,332.5 L651.7,332.5 L652.2,332.5 L652.7,332.5 L653.2,332.5 L653.7,332.5 L654.2,332.5 L654.7,332.5 L655.2,332.5 L655.7,332.5 L656.2,332.5 L656.7,332.5 L657.2,332.5 L657.7,332.5 L658.2,332.5 L658.7,332.5 L659.2,332.5 L659.7,332.5 L660.2,332.5 L660.7,332.5 L661.2,332.5 L661.7,332.5 L662.2,332.5 L662.7,332.5 L663.2,332.5 L663.7,332.5 L664.2,332.5 L664.7,332.5 L665.2,332.5 L665.7,332.5 L666.2,332.5 L666.7,332.5 L667.2,332.5 L667.7,332.5 L668.2,332.5 L668.7,332.5 L669.2,332.5 L669.7,332.5 L670.2,332.5 L670.7,332.5 L671.2,332.5 L671.7,332.5 L672.2,332.5 L672.7,332.5 L673.2,332.5 L673.7,332.5 L674.2,332.5 L674.7,332.5 L675.2,332.5"/>
</g>
<rect x="50.90" y="1.50" width="624.70" height="210.80" fill="none" stroke="#151515" stroke-width="2.4"/>
<path d="M50.9,191.40H44.9M50.9,149.20H44.9M50.9,107.00H44.9M50.9,64.80H44.9M50.9,22.60H44.9M50.9,170.30H47.4M50.9,128.10H47.4M50.9,85.90H47.4M50.9,43.70H47.4M50.9,1.50H47.7M50.9,212.30H47.7M64.95,212.3V217.8M166.70,212.3V217.8M268.45,212.3V217.8M370.20,212.3V217.8M471.95,212.3V217.8M573.70,212.3V217.8M675.45,212.3V217.8" stroke="#151515" stroke-width="2" fill="none"/>
<text x="40.7" y="197.4" font-size="20.3" text-anchor="end">−2</text>
<text x="40.7" y="155.2" font-size="20.3" text-anchor="end">−1</text>
<text x="40.7" y="113.0" font-size="20.3" text-anchor="end">0</text>
<text x="40.7" y="70.8" font-size="20.3" text-anchor="end">1</text>
<text x="40.7" y="28.6" font-size="20.3" text-anchor="end">2</text>
<rect x="50.90" y="226.70" width="624.70" height="211.00" fill="none" stroke="#151515" stroke-width="2.4"/>
<path d="M50.9,416.90H44.9M50.9,374.70H44.9M50.9,332.50H44.9M50.9,290.30H44.9M50.9,248.10H44.9M50.9,395.80H47.4M50.9,353.60H47.4M50.9,311.40H47.4M50.9,269.20H47.4M50.9,226.70H47.7M50.9,437.70H47.7M64.95,437.7V443.2M166.70,437.7V443.2M268.45,437.7V443.2M370.20,437.7V443.2M471.95,437.7V443.2M573.70,437.7V443.2M675.45,437.7V443.2" stroke="#151515" stroke-width="2" fill="none"/>
<text x="40.7" y="422.9" font-size="20.3" text-anchor="end">−2</text>
<text x="40.7" y="380.7" font-size="20.3" text-anchor="end">−1</text>
<text x="40.7" y="338.5" font-size="20.3" text-anchor="end">0</text>
<text x="40.7" y="296.3" font-size="20.3" text-anchor="end">1</text>
<text x="40.7" y="254.1" font-size="20.3" text-anchor="end">2</text>
<text x="64.9" y="458.1" font-size="19.7" text-anchor="middle">−15</text>
<text x="166.7" y="458.1" font-size="19.7" text-anchor="middle">−10</text>
<text x="268.4" y="458.1" font-size="19.7" text-anchor="middle">−5</text>
<text x="370.2" y="458.1" font-size="19.7" text-anchor="middle">0</text>
<text x="471.9" y="458.1" font-size="19.7" text-anchor="middle">5</text>
<text x="573.7" y="458.1" font-size="19.7" text-anchor="middle">10</text>
<text x="676.7" y="458.1" font-size="19.7" text-anchor="middle">15</text>
<text x="363.3" y="471" font-size="18.7" text-anchor="middle">Energy (eV)</text>
<text transform="translate(13.6,105.7) rotate(-90) scale(1.04,1)" font-size="18" text-anchor="middle">TDOS (States/eV)</text>
<text transform="translate(13.6,331.2) rotate(-90) scale(1.04,1)" font-size="18" text-anchor="middle">TDOS (States/eV)</text>
<text class="s" x="199.3" y="35" font-size="23.3">(a)</text>
<text class="s" x="205.3" y="262.3" font-size="23.3">(b)</text>
<rect x="253.6" y="13.3" width="70.9" height="30.4" rx="1.2" fill="#c4c4c4" stroke="#6c6c6c" stroke-width="1.2"/>
<text x="256.2" y="34.5" font-size="22.1">BaBH<tspan font-size="14" dy="5.5">3</tspan></text>
<rect x="259.8" y="237.8" width="71.1" height="30.4" rx="1.2" fill="#c4c4c4" stroke="#6c6c6c" stroke-width="1.2"/>
<text x="264.9" y="258.6" font-size="22.1">SrBH<tspan font-size="14" dy="5.5">3</tspan></text>
<path d="M669.3,10.2V55.9H582.3" stroke="#000" stroke-width="1.2" fill="none"/>
<rect x="581" y="9.2" width="87.2" height="45.6" fill="#fff" stroke="#000" stroke-width="1.2"/>
<path d="M582,21.1H621.3" stroke="#000" stroke-width="2.2"/>
<path d="M582,42.9H621.3" stroke="#f00" stroke-width="2.2"/>
<text x="626.6" y="26.6" font-size="16.4">up</text>
<text x="626.6" y="48.4" font-size="16.4">down</text>
<path d="M669.3,235.8V281.5H582.3" stroke="#000" stroke-width="1.2" fill="none"/>
<rect x="581" y="234.8" width="87.2" height="45.6" fill="#fff" stroke="#000" stroke-width="1.2"/>
<path d="M582,246.7H621.3" stroke="#000" stroke-width="2.2"/>
<path d="M582,268.5H621.3" stroke="#f00" stroke-width="2.2"/>
<text x="626.6" y="252.2" font-size="16.4">up</text>
<text x="626.6" y="274.0" font-size="16.4">down</text>
</svg></body></html>
